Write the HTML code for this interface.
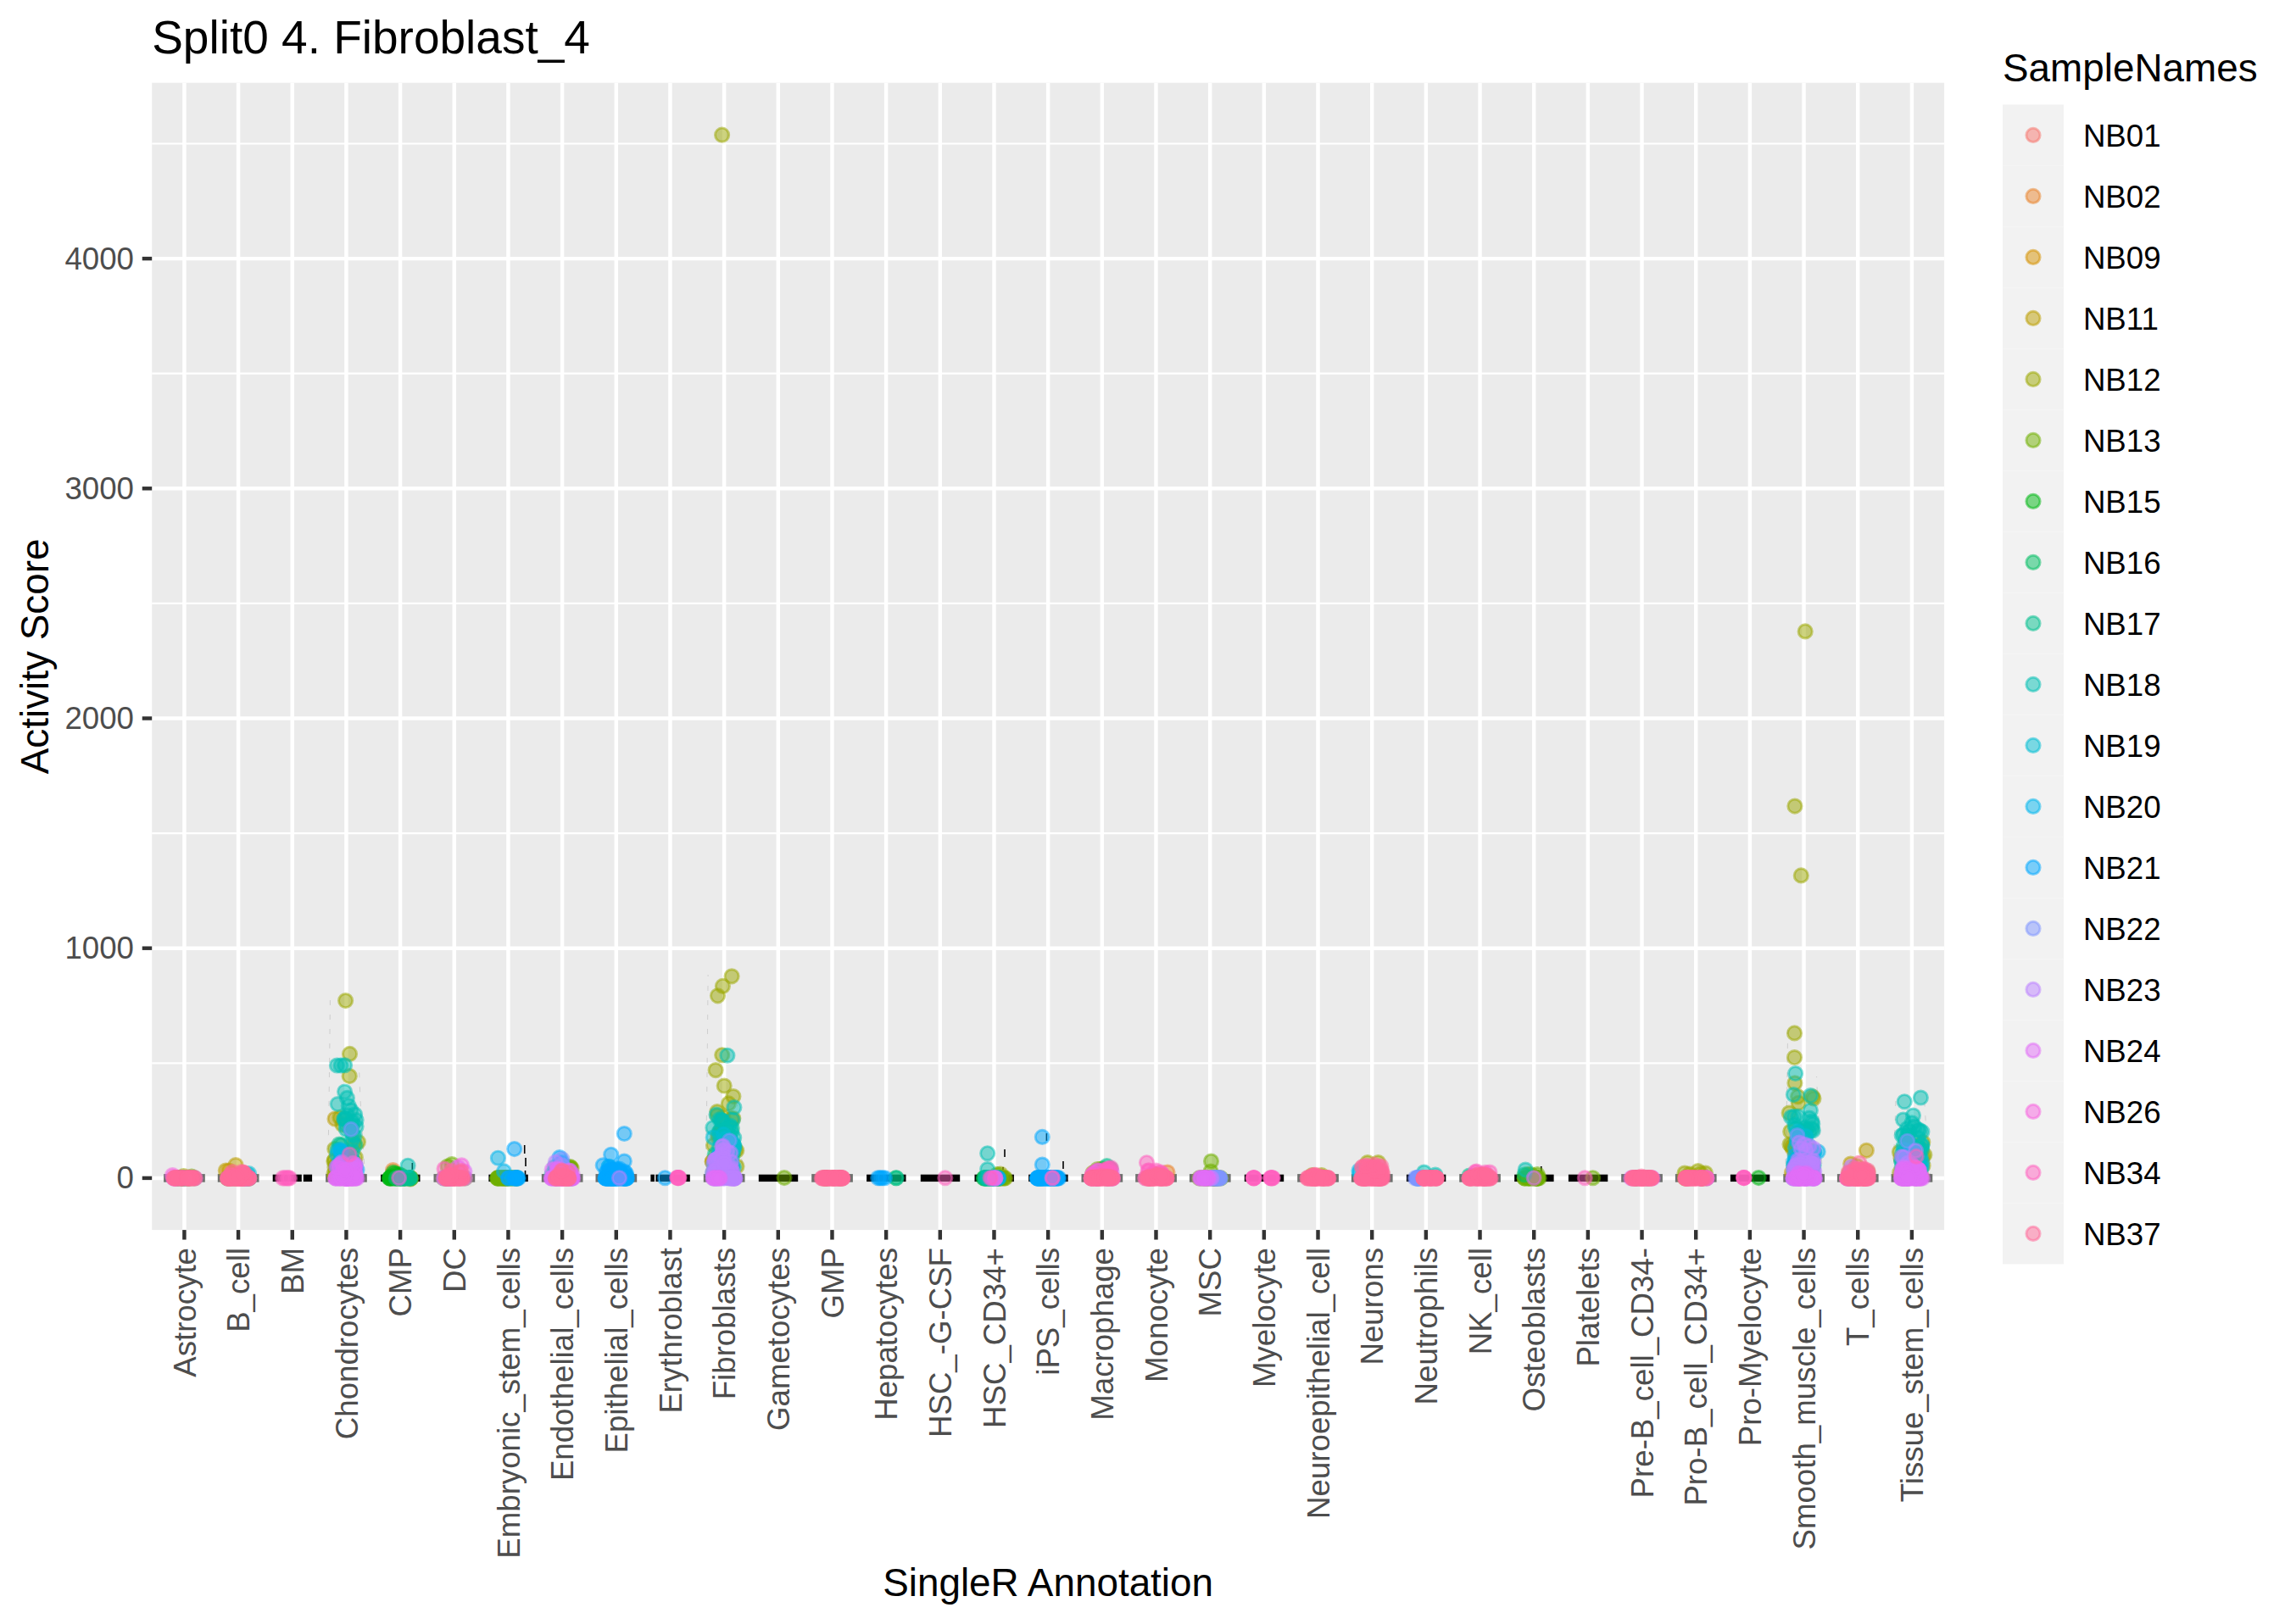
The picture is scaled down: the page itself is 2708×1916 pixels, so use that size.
<!DOCTYPE html>
<html lang="en"><head><meta charset="utf-8"><title>Split0 4. Fibroblast_4</title>
<style>html,body{margin:0;padding:0;background:#fff}body{width:2708px;height:1916px;overflow:hidden}svg{display:block}</style>
</head><body>
<svg width="2708" height="1916" viewBox="0 0 2708 1916" font-family="'Liberation Sans', Arial, Helvetica, sans-serif">
<rect width="2708" height="1916" fill="#fff"/>
<rect x="179.2" y="97.7" width="2113.9" height="1353.4" fill="#EBEBEB"/>
<g stroke="#fff" stroke-width="2.22">
<line x1="179.2" x2="2293.1" y1="1254.30" y2="1254.30"/>
<line x1="179.2" x2="2293.1" y1="983.10" y2="983.10"/>
<line x1="179.2" x2="2293.1" y1="711.90" y2="711.90"/>
<line x1="179.2" x2="2293.1" y1="440.70" y2="440.70"/>
<line x1="179.2" x2="2293.1" y1="169.50" y2="169.50"/>
</g>
<g stroke="#fff" stroke-width="4.45">
<line x1="179.2" x2="2293.1" y1="1389.90" y2="1389.90"/>
<line x1="179.2" x2="2293.1" y1="1118.70" y2="1118.70"/>
<line x1="179.2" x2="2293.1" y1="847.50" y2="847.50"/>
<line x1="179.2" x2="2293.1" y1="576.30" y2="576.30"/>
<line x1="179.2" x2="2293.1" y1="305.10" y2="305.10"/>
<line x1="217.40" x2="217.40" y1="97.7" y2="1451.1"/>
<line x1="281.07" x2="281.07" y1="97.7" y2="1451.1"/>
<line x1="344.75" x2="344.75" y1="97.7" y2="1451.1"/>
<line x1="408.42" x2="408.42" y1="97.7" y2="1451.1"/>
<line x1="472.09" x2="472.09" y1="97.7" y2="1451.1"/>
<line x1="535.76" x2="535.76" y1="97.7" y2="1451.1"/>
<line x1="599.43" x2="599.43" y1="97.7" y2="1451.1"/>
<line x1="663.10" x2="663.10" y1="97.7" y2="1451.1"/>
<line x1="726.78" x2="726.78" y1="97.7" y2="1451.1"/>
<line x1="790.45" x2="790.45" y1="97.7" y2="1451.1"/>
<line x1="854.12" x2="854.12" y1="97.7" y2="1451.1"/>
<line x1="917.79" x2="917.79" y1="97.7" y2="1451.1"/>
<line x1="981.46" x2="981.46" y1="97.7" y2="1451.1"/>
<line x1="1045.13" x2="1045.13" y1="97.7" y2="1451.1"/>
<line x1="1108.81" x2="1108.81" y1="97.7" y2="1451.1"/>
<line x1="1172.48" x2="1172.48" y1="97.7" y2="1451.1"/>
<line x1="1236.15" x2="1236.15" y1="97.7" y2="1451.1"/>
<line x1="1299.82" x2="1299.82" y1="97.7" y2="1451.1"/>
<line x1="1363.49" x2="1363.49" y1="97.7" y2="1451.1"/>
<line x1="1427.17" x2="1427.17" y1="97.7" y2="1451.1"/>
<line x1="1490.84" x2="1490.84" y1="97.7" y2="1451.1"/>
<line x1="1554.51" x2="1554.51" y1="97.7" y2="1451.1"/>
<line x1="1618.18" x2="1618.18" y1="97.7" y2="1451.1"/>
<line x1="1681.85" x2="1681.85" y1="97.7" y2="1451.1"/>
<line x1="1745.52" x2="1745.52" y1="97.7" y2="1451.1"/>
<line x1="1809.20" x2="1809.20" y1="97.7" y2="1451.1"/>
<line x1="1872.87" x2="1872.87" y1="97.7" y2="1451.1"/>
<line x1="1936.54" x2="1936.54" y1="97.7" y2="1451.1"/>
<line x1="2000.21" x2="2000.21" y1="97.7" y2="1451.1"/>
<line x1="2063.88" x2="2063.88" y1="97.7" y2="1451.1"/>
<line x1="2127.55" x2="2127.55" y1="97.7" y2="1451.1"/>
<line x1="2191.23" x2="2191.23" y1="97.7" y2="1451.1"/>
<line x1="2254.90" x2="2254.90" y1="97.7" y2="1451.1"/>
</g>
<rect x="193.1" y="1385.1" width="48.7" height="9.6" fill="#6E706E"/>
<rect x="256.8" y="1385.1" width="48.7" height="9.6" fill="#6E706E"/>
<rect x="321.7" y="1385.7" width="34.1" height="8.4" fill="#000"/>
<rect x="357.8" y="1385.7" width="10.3" height="8.4" fill="#000"/>
<rect x="384.1" y="1385.1" width="48.7" height="9.6" fill="#6E706E"/>
<rect x="449.1" y="1385.7" width="46.4" height="8.4" fill="#000"/>
<rect x="511.5" y="1385.1" width="48.7" height="9.6" fill="#6E706E"/>
<rect x="576.4" y="1385.7" width="46.4" height="8.4" fill="#000"/>
<rect x="638.8" y="1385.1" width="48.7" height="9.6" fill="#6E706E"/>
<rect x="702.5" y="1385.1" width="48.7" height="9.6" fill="#6E706E"/>
<rect x="767.4" y="1385.7" width="4.5" height="8.4" fill="#000"/>
<rect x="773.4" y="1385.7" width="3.5" height="8.4" fill="#000"/>
<rect x="777.9" y="1385.7" width="35.9" height="8.4" fill="#000"/>
<rect x="829.8" y="1385.1" width="48.7" height="9.6" fill="#6E706E"/>
<rect x="894.8" y="1385.7" width="46.4" height="8.4" fill="#000"/>
<rect x="957.2" y="1385.1" width="48.7" height="9.6" fill="#6E706E"/>
<rect x="1022.1" y="1385.7" width="46.4" height="8.4" fill="#000"/>
<rect x="1085.8" y="1385.7" width="46.4" height="8.4" fill="#000"/>
<rect x="1149.5" y="1385.7" width="46.4" height="8.4" fill="#000"/>
<rect x="1213.2" y="1385.7" width="46.4" height="8.4" fill="#000"/>
<rect x="1275.5" y="1385.1" width="48.7" height="9.6" fill="#6E706E"/>
<rect x="1339.2" y="1385.1" width="48.7" height="9.6" fill="#6E706E"/>
<rect x="1402.9" y="1385.1" width="48.7" height="9.6" fill="#6E706E"/>
<rect x="1467.8" y="1385.7" width="46.4" height="8.4" fill="#000"/>
<rect x="1530.2" y="1385.1" width="48.7" height="9.6" fill="#6E706E"/>
<rect x="1593.9" y="1385.1" width="48.7" height="9.6" fill="#6E706E"/>
<rect x="1658.9" y="1385.7" width="46.4" height="8.4" fill="#000"/>
<rect x="1721.2" y="1385.1" width="48.7" height="9.6" fill="#6E706E"/>
<rect x="1786.2" y="1385.7" width="46.4" height="8.4" fill="#000"/>
<rect x="1849.9" y="1385.7" width="46.4" height="8.4" fill="#000"/>
<rect x="1912.2" y="1385.1" width="48.7" height="9.6" fill="#6E706E"/>
<rect x="1975.9" y="1385.1" width="48.7" height="9.6" fill="#6E706E"/>
<rect x="2040.9" y="1385.7" width="46.4" height="8.4" fill="#000"/>
<rect x="2103.3" y="1385.1" width="48.7" height="9.6" fill="#6E706E"/>
<rect x="2166.9" y="1385.1" width="48.7" height="9.6" fill="#6E706E"/>
<rect x="2230.6" y="1385.1" width="48.7" height="9.6" fill="#6E706E"/>
<g stroke="#000" stroke-width="1" fill="none" stroke-dasharray="6 11" opacity="0.12">
<path d="M386.4,1389.9 C387.4,1349.9 388.4,1285 389.4,1180"/>
<path d="M430.4,1389.9 C429.4,1359.9 425.4,1322 423.4,1255"/>
<path d="M832.1,1389.9 C833.1,1349.9 834.1,1270 835.1,1150"/>
<path d="M876.1,1389.9 C875.1,1359.9 871.1,1340 869.1,1290"/>
<path d="M2105.6,1389.9 C2106.6,1349.9 2107.6,1302 2108.6,1215"/>
<path d="M2149.6,1389.9 C2148.6,1359.9 2144.6,1330 2142.6,1270"/>
<path d="M2232.9,1389.9 C2233.9,1349.9 2234.9,1342 2235.9,1295"/>
<path d="M2276.9,1389.9 C2275.9,1359.9 2271.9,1345 2269.9,1300"/>
</g>
<g stroke="#000" stroke-width="1.6" fill="none">
<line x1="618.7" x2="618.7" y1="1351" y2="1361"/>
<line x1="620" x2="620" y1="1366" y2="1376"/>
<line x1="619.5" x2="619.5" y1="1381" y2="1389"/>
<line x1="1185" x2="1185" y1="1356" y2="1365"/>
<line x1="1183" x2="1183" y1="1377" y2="1380"/>
<line x1="1234.4" x2="1234.4" y1="1337" y2="1346"/>
<line x1="1254" x2="1254" y1="1370" y2="1379"/>
<line x1="1817.8" x2="1817.8" y1="1376" y2="1384"/>
<line x1="486.3" x2="486.3" y1="1372" y2="1380"/>
</g>
<g stroke-width="2.95" fill-opacity="0.5" stroke-opacity="0.5">
<g fill="#E9842C" stroke="#E9842C">
<circle cx="463.5" cy="1380.5" r="8.1"/>
<circle cx="1377.0" cy="1383.0" r="8.1"/>
</g>
<g fill="#D69100" stroke="#D69100">
<circle cx="270.0" cy="1381.0" r="8.1"/>
</g>
<g fill="#BC9D00" stroke="#BC9D00">
<circle cx="268.4" cy="1389.9" r="8.1"/>
<circle cx="293.8" cy="1389.9" r="8.1"/>
<circle cx="269.9" cy="1389.9" r="8.1"/>
<circle cx="273.6" cy="1389.9" r="8.1"/>
<circle cx="285.7" cy="1389.9" r="8.1"/>
<circle cx="278.0" cy="1374.5" r="8.1"/>
<circle cx="266.3" cy="1381.0" r="8.1"/>
<circle cx="395.0" cy="1320.0" r="8.1"/>
<circle cx="848.9" cy="1367.2" r="8.1"/>
<circle cx="846.9" cy="1341.2" r="8.1"/>
<circle cx="849.3" cy="1335.1" r="8.1"/>
<circle cx="840.3" cy="1370.6" r="8.1"/>
<circle cx="847.1" cy="1338.4" r="8.1"/>
<circle cx="846.1" cy="1386.3" r="8.1"/>
<circle cx="842.6" cy="1367.9" r="8.1"/>
<circle cx="840.2" cy="1370.4" r="8.1"/>
<circle cx="2116.8" cy="1349.8" r="8.1"/>
<circle cx="2118.5" cy="1356.3" r="8.1"/>
<circle cx="2113.4" cy="1383.4" r="8.1"/>
<circle cx="2118.2" cy="1351.3" r="8.1"/>
<circle cx="2114.3" cy="1354.9" r="8.1"/>
<circle cx="2201.4" cy="1357.3" r="8.1"/>
<circle cx="2182.7" cy="1373.0" r="8.1"/>
</g>
<g fill="#9CA700" stroke="#9CA700">
<circle cx="216.6" cy="1389.9" r="8.1"/>
<circle cx="214.4" cy="1389.9" r="8.1"/>
<circle cx="220.9" cy="1389.9" r="8.1"/>
<circle cx="216.6" cy="1387.5" r="8.1"/>
<circle cx="407.6" cy="1180.6" r="8.1"/>
<circle cx="412.5" cy="1243.4" r="8.1"/>
<circle cx="412.2" cy="1269.6" r="8.1"/>
<circle cx="401.0" cy="1318.5" r="8.1"/>
<circle cx="403.9" cy="1326.8" r="8.1"/>
<circle cx="399.1" cy="1382.5" r="8.1"/>
<circle cx="394.0" cy="1384.7" r="8.1"/>
<circle cx="394.9" cy="1376.9" r="8.1"/>
<circle cx="393.9" cy="1370.0" r="8.1"/>
<circle cx="394.8" cy="1388.0" r="8.1"/>
<circle cx="396.7" cy="1382.6" r="8.1"/>
<circle cx="401.3" cy="1386.6" r="8.1"/>
<circle cx="394.8" cy="1355.5" r="8.1"/>
<circle cx="396.5" cy="1374.6" r="8.1"/>
<circle cx="394.5" cy="1368.7" r="8.1"/>
<circle cx="422.4" cy="1347.3" r="8.1"/>
<circle cx="419.3" cy="1365.6" r="8.1"/>
<circle cx="417.0" cy="1383.9" r="8.1"/>
<circle cx="418.0" cy="1371.6" r="8.1"/>
<circle cx="417.4" cy="1348.2" r="8.1"/>
<circle cx="484.0" cy="1391.0" r="8.1"/>
<circle cx="671.5" cy="1382.6" r="8.1"/>
<circle cx="674.1" cy="1378.3" r="8.1"/>
<circle cx="672.2" cy="1378.4" r="8.1"/>
<circle cx="673.0" cy="1377.5" r="8.1"/>
<circle cx="669.1" cy="1380.3" r="8.1"/>
<circle cx="851.6" cy="159.2" r="8.1"/>
<circle cx="863.1" cy="1151.8" r="8.1"/>
<circle cx="852.4" cy="1163.4" r="8.1"/>
<circle cx="846.5" cy="1174.8" r="8.1"/>
<circle cx="851.7" cy="1244.7" r="8.1"/>
<circle cx="844.1" cy="1262.6" r="8.1"/>
<circle cx="854.2" cy="1281.0" r="8.1"/>
<circle cx="864.9" cy="1293.6" r="8.1"/>
<circle cx="859.4" cy="1301.9" r="8.1"/>
<circle cx="846.0" cy="1316.0" r="8.1"/>
<circle cx="853.0" cy="1318.0" r="8.1"/>
<circle cx="848.5" cy="1385.8" r="8.1"/>
<circle cx="868.8" cy="1357.5" r="8.1"/>
<circle cx="869.0" cy="1376.0" r="8.1"/>
<circle cx="850.8" cy="1369.2" r="8.1"/>
<circle cx="864.8" cy="1319.5" r="8.1"/>
<circle cx="841.6" cy="1351.0" r="8.1"/>
<circle cx="851.3" cy="1347.6" r="8.1"/>
<circle cx="845.9" cy="1311.5" r="8.1"/>
<circle cx="867.0" cy="1356.5" r="8.1"/>
<circle cx="852.4" cy="1383.5" r="8.1"/>
<circle cx="863.1" cy="1320.2" r="8.1"/>
<circle cx="841.2" cy="1382.7" r="8.1"/>
<circle cx="975.7" cy="1389.9" r="8.1"/>
<circle cx="989.5" cy="1389.9" r="8.1"/>
<circle cx="972.4" cy="1389.9" r="8.1"/>
<circle cx="1177.5" cy="1389.9" r="8.1"/>
<circle cx="1185.5" cy="1389.9" r="8.1"/>
<circle cx="1182.8" cy="1389.9" r="8.1"/>
<circle cx="1180.0" cy="1389.9" r="8.1"/>
<circle cx="1177.5" cy="1389.9" r="8.1"/>
<circle cx="1177.7" cy="1389.9" r="8.1"/>
<circle cx="1180.0" cy="1385.0" r="8.1"/>
<circle cx="1298.7" cy="1379.3" r="8.1"/>
<circle cx="1290.3" cy="1384.0" r="8.1"/>
<circle cx="1288.8" cy="1383.9" r="8.1"/>
<circle cx="1305.8" cy="1383.0" r="8.1"/>
<circle cx="1547.7" cy="1386.5" r="8.1"/>
<circle cx="1558.7" cy="1386.5" r="8.1"/>
<circle cx="1613.0" cy="1371.5" r="8.1"/>
<circle cx="1625.5" cy="1371.5" r="8.1"/>
<circle cx="1987.0" cy="1384.0" r="8.1"/>
<circle cx="2002.8" cy="1381.5" r="8.1"/>
<circle cx="2011.5" cy="1384.0" r="8.1"/>
<circle cx="1993.0" cy="1385.0" r="8.1"/>
<circle cx="2006.0" cy="1384.5" r="8.1"/>
<circle cx="1987.5" cy="1389.9" r="8.1"/>
<circle cx="2012.9" cy="1389.9" r="8.1"/>
<circle cx="2007.0" cy="1389.9" r="8.1"/>
<circle cx="2008.3" cy="1389.9" r="8.1"/>
<circle cx="2129.2" cy="744.9" r="8.1"/>
<circle cx="2116.9" cy="951.1" r="8.1"/>
<circle cx="2124.3" cy="1032.9" r="8.1"/>
<circle cx="2116.5" cy="1218.9" r="8.1"/>
<circle cx="2116.5" cy="1247.5" r="8.1"/>
<circle cx="2116.9" cy="1277.8" r="8.1"/>
<circle cx="2120.6" cy="1293.8" r="8.1"/>
<circle cx="2121.3" cy="1301.2" r="8.1"/>
<circle cx="2137.6" cy="1293.8" r="8.1"/>
<circle cx="2110.2" cy="1313.0" r="8.1"/>
<circle cx="2111.7" cy="1335.0" r="8.1"/>
<circle cx="2111.0" cy="1350.0" r="8.1"/>
<circle cx="2139.0" cy="1296.0" r="8.1"/>
<circle cx="2134.5" cy="1356.7" r="8.1"/>
<circle cx="2121.9" cy="1382.4" r="8.1"/>
<circle cx="2116.2" cy="1374.4" r="8.1"/>
<circle cx="2117.4" cy="1362.5" r="8.1"/>
<circle cx="2116.7" cy="1375.4" r="8.1"/>
<circle cx="2112.9" cy="1352.1" r="8.1"/>
<circle cx="2202.9" cy="1382.6" r="8.1"/>
<circle cx="2197.8" cy="1382.5" r="8.1"/>
<circle cx="2180.8" cy="1384.1" r="8.1"/>
<circle cx="2189.8" cy="1375.5" r="8.1"/>
<circle cx="2266.4" cy="1387.8" r="8.1"/>
<circle cx="2267.8" cy="1347.6" r="8.1"/>
<circle cx="2265.9" cy="1355.9" r="8.1"/>
<circle cx="2267.7" cy="1364.1" r="8.1"/>
<circle cx="2268.1" cy="1375.2" r="8.1"/>
<circle cx="2269.9" cy="1362.5" r="8.1"/>
<circle cx="2242.0" cy="1366.2" r="8.1"/>
<circle cx="2240.7" cy="1383.4" r="8.1"/>
<circle cx="2240.4" cy="1359.1" r="8.1"/>
</g>
<g fill="#6FB000" stroke="#6FB000">
<circle cx="214.4" cy="1389.9" r="8.1"/>
<circle cx="229.4" cy="1389.9" r="8.1"/>
<circle cx="215.5" cy="1389.9" r="8.1"/>
<circle cx="222.4" cy="1389.9" r="8.1"/>
<circle cx="226.0" cy="1388.0" r="8.1"/>
<circle cx="268.4" cy="1389.9" r="8.1"/>
<circle cx="293.8" cy="1389.9" r="8.1"/>
<circle cx="279.2" cy="1389.9" r="8.1"/>
<circle cx="276.4" cy="1389.9" r="8.1"/>
<circle cx="283.2" cy="1389.9" r="8.1"/>
<circle cx="477.1" cy="1389.9" r="8.1"/>
<circle cx="484.8" cy="1389.9" r="8.1"/>
<circle cx="477.6" cy="1389.9" r="8.1"/>
<circle cx="484.3" cy="1389.9" r="8.1"/>
<circle cx="523.1" cy="1389.9" r="8.1"/>
<circle cx="548.5" cy="1389.9" r="8.1"/>
<circle cx="526.3" cy="1389.9" r="8.1"/>
<circle cx="536.4" cy="1389.9" r="8.1"/>
<circle cx="529.1" cy="1389.9" r="8.1"/>
<circle cx="525.8" cy="1389.9" r="8.1"/>
<circle cx="533.0" cy="1373.5" r="8.1"/>
<circle cx="528.0" cy="1376.0" r="8.1"/>
<circle cx="586.7" cy="1389.9" r="8.1"/>
<circle cx="609.4" cy="1389.9" r="8.1"/>
<circle cx="595.4" cy="1389.9" r="8.1"/>
<circle cx="597.5" cy="1389.9" r="8.1"/>
<circle cx="598.1" cy="1389.9" r="8.1"/>
<circle cx="591.3" cy="1389.9" r="8.1"/>
<circle cx="598.2" cy="1389.9" r="8.1"/>
<circle cx="586.8" cy="1389.9" r="8.1"/>
<circle cx="592.7" cy="1389.9" r="8.1"/>
<circle cx="588.8" cy="1389.9" r="8.1"/>
<circle cx="595.8" cy="1389.9" r="8.1"/>
<circle cx="587.7" cy="1389.9" r="8.1"/>
<circle cx="587.2" cy="1389.9" r="8.1"/>
<circle cx="593.6" cy="1389.9" r="8.1"/>
<circle cx="592.0" cy="1389.9" r="8.1"/>
<circle cx="600.0" cy="1389.9" r="8.1"/>
<circle cx="598.7" cy="1389.9" r="8.1"/>
<circle cx="603.8" cy="1389.9" r="8.1"/>
<circle cx="601.7" cy="1389.9" r="8.1"/>
<circle cx="603.0" cy="1389.9" r="8.1"/>
<circle cx="606.7" cy="1389.9" r="8.1"/>
<circle cx="595.6" cy="1389.9" r="8.1"/>
<circle cx="594.1" cy="1389.9" r="8.1"/>
<circle cx="609.1" cy="1389.9" r="8.1"/>
<circle cx="590.1" cy="1389.9" r="8.1"/>
<circle cx="669.1" cy="1389.4" r="8.1"/>
<circle cx="668.9" cy="1384.2" r="8.1"/>
<circle cx="672.4" cy="1376.6" r="8.1"/>
<circle cx="672.9" cy="1379.9" r="8.1"/>
<circle cx="671.9" cy="1379.1" r="8.1"/>
<circle cx="674.2" cy="1389.8" r="8.1"/>
<circle cx="925.0" cy="1389.6" r="8.1"/>
<circle cx="981.5" cy="1389.9" r="8.1"/>
<circle cx="992.1" cy="1389.9" r="8.1"/>
<circle cx="974.1" cy="1389.9" r="8.1"/>
<circle cx="1174.5" cy="1389.9" r="8.1"/>
<circle cx="1184.5" cy="1389.9" r="8.1"/>
<circle cx="1176.0" cy="1389.9" r="8.1"/>
<circle cx="1180.6" cy="1389.9" r="8.1"/>
<circle cx="1178.8" cy="1389.9" r="8.1"/>
<circle cx="1176.0" cy="1385.5" r="8.1"/>
<circle cx="1308.7" cy="1379.7" r="8.1"/>
<circle cx="1294.4" cy="1379.6" r="8.1"/>
<circle cx="1298.6" cy="1381.0" r="8.1"/>
<circle cx="1300.7" cy="1378.9" r="8.1"/>
<circle cx="1303.7" cy="1383.6" r="8.1"/>
<circle cx="1414.5" cy="1389.9" r="8.1"/>
<circle cx="1439.9" cy="1389.9" r="8.1"/>
<circle cx="1425.2" cy="1389.9" r="8.1"/>
<circle cx="1420.3" cy="1389.9" r="8.1"/>
<circle cx="1432.8" cy="1389.9" r="8.1"/>
<circle cx="1436.8" cy="1389.9" r="8.1"/>
<circle cx="1434.1" cy="1389.9" r="8.1"/>
<circle cx="1432.2" cy="1389.9" r="8.1"/>
<circle cx="1436.1" cy="1389.9" r="8.1"/>
<circle cx="1431.7" cy="1389.9" r="8.1"/>
<circle cx="1430.8" cy="1389.9" r="8.1"/>
<circle cx="1426.0" cy="1389.9" r="8.1"/>
<circle cx="1422.4" cy="1389.9" r="8.1"/>
<circle cx="1430.4" cy="1389.9" r="8.1"/>
<circle cx="1417.0" cy="1389.9" r="8.1"/>
<circle cx="1425.1" cy="1389.9" r="8.1"/>
<circle cx="1434.3" cy="1389.9" r="8.1"/>
<circle cx="1432.6" cy="1389.9" r="8.1"/>
<circle cx="1430.5" cy="1389.9" r="8.1"/>
<circle cx="1420.8" cy="1389.9" r="8.1"/>
<circle cx="1428.5" cy="1370.1" r="8.1"/>
<circle cx="1428.0" cy="1382.0" r="8.1"/>
<circle cx="1798.2" cy="1389.9" r="8.1"/>
<circle cx="1815.2" cy="1389.9" r="8.1"/>
<circle cx="1803.0" cy="1389.9" r="8.1"/>
<circle cx="1798.2" cy="1389.9" r="8.1"/>
<circle cx="1802.7" cy="1389.9" r="8.1"/>
<circle cx="1805.4" cy="1389.9" r="8.1"/>
<circle cx="1808.2" cy="1389.9" r="8.1"/>
<circle cx="1812.1" cy="1389.9" r="8.1"/>
<circle cx="1813.3" cy="1389.9" r="8.1"/>
<circle cx="1798.9" cy="1389.9" r="8.1"/>
<circle cx="1812.4" cy="1389.9" r="8.1"/>
<circle cx="1812.0" cy="1389.9" r="8.1"/>
<circle cx="1812.9" cy="1389.9" r="8.1"/>
<circle cx="1807.9" cy="1389.9" r="8.1"/>
<circle cx="1802.9" cy="1389.9" r="8.1"/>
<circle cx="1812.7" cy="1389.9" r="8.1"/>
<circle cx="1811.9" cy="1389.9" r="8.1"/>
<circle cx="1809.8" cy="1389.9" r="8.1"/>
<circle cx="1813.7" cy="1389.9" r="8.1"/>
<circle cx="1804.1" cy="1389.9" r="8.1"/>
<circle cx="1807.5" cy="1389.4" r="8.1"/>
<circle cx="1802.2" cy="1385.2" r="8.1"/>
<circle cx="1813.2" cy="1385.5" r="8.1"/>
<circle cx="1808.3" cy="1388.5" r="8.1"/>
<circle cx="1806.2" cy="1385.9" r="8.1"/>
<circle cx="1878.7" cy="1389.7" r="8.1"/>
</g>
<g fill="#00B813" stroke="#00B813">
<circle cx="209.4" cy="1389.9" r="8.1"/>
<circle cx="223.4" cy="1389.9" r="8.1"/>
<circle cx="214.5" cy="1389.9" r="8.1"/>
<circle cx="210.2" cy="1389.9" r="8.1"/>
<circle cx="459.4" cy="1389.9" r="8.1"/>
<circle cx="472.1" cy="1389.9" r="8.1"/>
<circle cx="459.6" cy="1389.9" r="8.1"/>
<circle cx="463.6" cy="1389.9" r="8.1"/>
<circle cx="467.3" cy="1389.9" r="8.1"/>
<circle cx="465.9" cy="1389.9" r="8.1"/>
<circle cx="460.2" cy="1389.9" r="8.1"/>
<circle cx="471.9" cy="1389.9" r="8.1"/>
<circle cx="469.4" cy="1389.9" r="8.1"/>
<circle cx="471.7" cy="1389.9" r="8.1"/>
<circle cx="460.7" cy="1389.9" r="8.1"/>
<circle cx="462.8" cy="1389.9" r="8.1"/>
<circle cx="471.0" cy="1389.6" r="8.1"/>
<circle cx="461.9" cy="1387.8" r="8.1"/>
<circle cx="472.8" cy="1386.6" r="8.1"/>
<circle cx="463.7" cy="1383.4" r="8.1"/>
<circle cx="473.0" cy="1388.7" r="8.1"/>
<circle cx="469.9" cy="1385.4" r="8.1"/>
<circle cx="460.9" cy="1389.2" r="8.1"/>
<circle cx="466.0" cy="1384.5" r="8.1"/>
<circle cx="1160.5" cy="1389.9" r="8.1"/>
<circle cx="1172.5" cy="1389.9" r="8.1"/>
<circle cx="1166.6" cy="1389.9" r="8.1"/>
<circle cx="1171.2" cy="1389.9" r="8.1"/>
<circle cx="2074.2" cy="1389.6" r="8.1"/>
</g>
<g fill="#00BD61" stroke="#00BD61">
<circle cx="218.0" cy="1390.5" r="8.1"/>
<circle cx="467.1" cy="1389.9" r="8.1"/>
<circle cx="477.1" cy="1389.9" r="8.1"/>
<circle cx="473.4" cy="1389.9" r="8.1"/>
<circle cx="475.1" cy="1389.9" r="8.1"/>
<circle cx="467.9" cy="1389.9" r="8.1"/>
<circle cx="1056.8" cy="1389.7" r="8.1"/>
<circle cx="1160.5" cy="1389.9" r="8.1"/>
<circle cx="1172.5" cy="1389.9" r="8.1"/>
<circle cx="1162.1" cy="1389.9" r="8.1"/>
<circle cx="1163.2" cy="1389.9" r="8.1"/>
<circle cx="1168.3" cy="1389.9" r="8.1"/>
<circle cx="1310.0" cy="1379.0" r="8.1"/>
<circle cx="1798.0" cy="1386.0" r="8.1"/>
<circle cx="1929.1" cy="1389.9" r="8.1"/>
<circle cx="1930.3" cy="1389.9" r="8.1"/>
<circle cx="1942.9" cy="1389.9" r="8.1"/>
</g>
<g fill="#00C08E" stroke="#00C08E">
<circle cx="418.4" cy="1378.7" r="8.1"/>
<circle cx="402.4" cy="1350.9" r="8.1"/>
<circle cx="400.0" cy="1350.1" r="8.1"/>
<circle cx="419.0" cy="1351.0" r="8.1"/>
<circle cx="413.3" cy="1332.5" r="8.1"/>
<circle cx="406.8" cy="1365.6" r="8.1"/>
<circle cx="472.1" cy="1389.9" r="8.1"/>
<circle cx="484.1" cy="1389.9" r="8.1"/>
<circle cx="482.4" cy="1389.9" r="8.1"/>
<circle cx="472.9" cy="1389.9" r="8.1"/>
<circle cx="482.4" cy="1389.9" r="8.1"/>
<circle cx="477.5" cy="1389.9" r="8.1"/>
<circle cx="476.2" cy="1389.9" r="8.1"/>
<circle cx="478.7" cy="1389.9" r="8.1"/>
<circle cx="483.2" cy="1389.9" r="8.1"/>
<circle cx="475.3" cy="1389.9" r="8.1"/>
<circle cx="863.4" cy="1375.9" r="8.1"/>
<circle cx="859.6" cy="1363.3" r="8.1"/>
<circle cx="850.6" cy="1321.6" r="8.1"/>
<circle cx="864.2" cy="1362.3" r="8.1"/>
<circle cx="848.9" cy="1339.9" r="8.1"/>
<circle cx="850.1" cy="1333.4" r="8.1"/>
<circle cx="843.2" cy="1362.1" r="8.1"/>
<circle cx="863.3" cy="1330.9" r="8.1"/>
<circle cx="1057.2" cy="1389.7" r="8.1"/>
<circle cx="1162.5" cy="1389.9" r="8.1"/>
<circle cx="1177.5" cy="1389.9" r="8.1"/>
<circle cx="1162.8" cy="1389.9" r="8.1"/>
<circle cx="1162.5" cy="1389.9" r="8.1"/>
<circle cx="1167.8" cy="1389.9" r="8.1"/>
<circle cx="1164.1" cy="1389.9" r="8.1"/>
<circle cx="1167.8" cy="1389.9" r="8.1"/>
<circle cx="1165.8" cy="1389.9" r="8.1"/>
<circle cx="1226.4" cy="1389.9" r="8.1"/>
<circle cx="1227.5" cy="1389.9" r="8.1"/>
<circle cx="1227.1" cy="1389.9" r="8.1"/>
<circle cx="1305.5" cy="1375.5" r="8.1"/>
<circle cx="1733.0" cy="1387.0" r="8.1"/>
<circle cx="2121.0" cy="1339.8" r="8.1"/>
<circle cx="2137.9" cy="1378.0" r="8.1"/>
<circle cx="2138.0" cy="1367.6" r="8.1"/>
<circle cx="2137.0" cy="1331.5" r="8.1"/>
<circle cx="2126.8" cy="1372.2" r="8.1"/>
<circle cx="2137.9" cy="1374.6" r="8.1"/>
<circle cx="2131.0" cy="1332.8" r="8.1"/>
<circle cx="2124.4" cy="1354.7" r="8.1"/>
<circle cx="2247.0" cy="1375.5" r="8.1"/>
<circle cx="2262.7" cy="1356.5" r="8.1"/>
<circle cx="2262.3" cy="1352.4" r="8.1"/>
<circle cx="2243.2" cy="1377.2" r="8.1"/>
<circle cx="2250.6" cy="1345.3" r="8.1"/>
<circle cx="2251.4" cy="1347.8" r="8.1"/>
<circle cx="2249.3" cy="1372.4" r="8.1"/>
<circle cx="2264.6" cy="1375.5" r="8.1"/>
</g>
<g fill="#00C0B4" stroke="#00C0B4">
<circle cx="397.4" cy="1257.0" r="8.1"/>
<circle cx="402.0" cy="1257.0" r="8.1"/>
<circle cx="406.6" cy="1256.7" r="8.1"/>
<circle cx="406.6" cy="1288.0" r="8.1"/>
<circle cx="409.4" cy="1295.4" r="8.1"/>
<circle cx="398.3" cy="1302.5" r="8.1"/>
<circle cx="411.3" cy="1304.7" r="8.1"/>
<circle cx="418.6" cy="1314.8" r="8.1"/>
<circle cx="409.4" cy="1315.8" r="8.1"/>
<circle cx="414.0" cy="1310.0" r="8.1"/>
<circle cx="415.2" cy="1369.2" r="8.1"/>
<circle cx="415.3" cy="1345.7" r="8.1"/>
<circle cx="402.5" cy="1358.4" r="8.1"/>
<circle cx="420.1" cy="1329.0" r="8.1"/>
<circle cx="416.0" cy="1326.6" r="8.1"/>
<circle cx="414.4" cy="1328.6" r="8.1"/>
<circle cx="409.3" cy="1365.2" r="8.1"/>
<circle cx="398.1" cy="1356.8" r="8.1"/>
<circle cx="403.8" cy="1379.4" r="8.1"/>
<circle cx="413.3" cy="1363.0" r="8.1"/>
<circle cx="407.7" cy="1320.5" r="8.1"/>
<circle cx="420.1" cy="1321.6" r="8.1"/>
<circle cx="405.8" cy="1320.6" r="8.1"/>
<circle cx="402.6" cy="1365.6" r="8.1"/>
<circle cx="402.1" cy="1367.2" r="8.1"/>
<circle cx="418.1" cy="1340.1" r="8.1"/>
<circle cx="408.4" cy="1327.3" r="8.1"/>
<circle cx="415.8" cy="1338.4" r="8.1"/>
<circle cx="412.6" cy="1375.1" r="8.1"/>
<circle cx="415.4" cy="1323.2" r="8.1"/>
<circle cx="408.4" cy="1332.6" r="8.1"/>
<circle cx="415.6" cy="1368.4" r="8.1"/>
<circle cx="415.8" cy="1358.2" r="8.1"/>
<circle cx="406.5" cy="1319.6" r="8.1"/>
<circle cx="481.1" cy="1375.2" r="8.1"/>
<circle cx="654.3" cy="1376.5" r="8.1"/>
<circle cx="655.5" cy="1380.3" r="8.1"/>
<circle cx="656.1" cy="1388.7" r="8.1"/>
<circle cx="651.0" cy="1385.4" r="8.1"/>
<circle cx="656.0" cy="1385.1" r="8.1"/>
<circle cx="857.9" cy="1245.2" r="8.1"/>
<circle cx="865.9" cy="1306.5" r="8.1"/>
<circle cx="840.9" cy="1330.5" r="8.1"/>
<circle cx="861.0" cy="1328.0" r="8.1"/>
<circle cx="845.0" cy="1315.0" r="8.1"/>
<circle cx="852.0" cy="1322.0" r="8.1"/>
<circle cx="865.7" cy="1342.2" r="8.1"/>
<circle cx="848.0" cy="1383.7" r="8.1"/>
<circle cx="866.0" cy="1352.2" r="8.1"/>
<circle cx="851.8" cy="1322.7" r="8.1"/>
<circle cx="852.9" cy="1367.0" r="8.1"/>
<circle cx="865.3" cy="1351.0" r="8.1"/>
<circle cx="862.2" cy="1371.7" r="8.1"/>
<circle cx="862.7" cy="1335.8" r="8.1"/>
<circle cx="857.3" cy="1333.7" r="8.1"/>
<circle cx="850.1" cy="1361.8" r="8.1"/>
<circle cx="861.7" cy="1359.6" r="8.1"/>
<circle cx="847.1" cy="1379.3" r="8.1"/>
<circle cx="848.3" cy="1334.9" r="8.1"/>
<circle cx="843.0" cy="1380.4" r="8.1"/>
<circle cx="850.3" cy="1347.3" r="8.1"/>
<circle cx="864.2" cy="1321.2" r="8.1"/>
<circle cx="848.7" cy="1320.7" r="8.1"/>
<circle cx="844.5" cy="1378.9" r="8.1"/>
<circle cx="859.9" cy="1350.7" r="8.1"/>
<circle cx="848.0" cy="1354.0" r="8.1"/>
<circle cx="857.6" cy="1356.0" r="8.1"/>
<circle cx="860.8" cy="1339.7" r="8.1"/>
<circle cx="858.7" cy="1329.2" r="8.1"/>
<circle cx="863.1" cy="1376.1" r="8.1"/>
<circle cx="856.3" cy="1364.1" r="8.1"/>
<circle cx="860.6" cy="1358.8" r="8.1"/>
<circle cx="848.3" cy="1370.6" r="8.1"/>
<circle cx="846.0" cy="1367.4" r="8.1"/>
<circle cx="1164.5" cy="1389.9" r="8.1"/>
<circle cx="1176.5" cy="1389.9" r="8.1"/>
<circle cx="1171.5" cy="1389.9" r="8.1"/>
<circle cx="1171.5" cy="1389.9" r="8.1"/>
<circle cx="1166.9" cy="1389.9" r="8.1"/>
<circle cx="1172.0" cy="1389.9" r="8.1"/>
<circle cx="1164.7" cy="1360.7" r="8.1"/>
<circle cx="1164.7" cy="1379.5" r="8.1"/>
<circle cx="1679.6" cy="1383.0" r="8.1"/>
<circle cx="1692.9" cy="1386.0" r="8.1"/>
<circle cx="1799.2" cy="1380.0" r="8.1"/>
<circle cx="2117.6" cy="1266.5" r="8.1"/>
<circle cx="2115.4" cy="1291.6" r="8.1"/>
<circle cx="2135.4" cy="1292.6" r="8.1"/>
<circle cx="2135.4" cy="1310.0" r="8.1"/>
<circle cx="2116.2" cy="1317.4" r="8.1"/>
<circle cx="2112.5" cy="1318.0" r="8.1"/>
<circle cx="2121.0" cy="1317.4" r="8.1"/>
<circle cx="2134.0" cy="1319.0" r="8.1"/>
<circle cx="2137.0" cy="1323.0" r="8.1"/>
<circle cx="2138.3" cy="1333.7" r="8.1"/>
<circle cx="2134.0" cy="1335.0" r="8.1"/>
<circle cx="2129.5" cy="1330.7" r="8.1"/>
<circle cx="2127.5" cy="1334.8" r="8.1"/>
<circle cx="2119.8" cy="1344.9" r="8.1"/>
<circle cx="2117.9" cy="1367.9" r="8.1"/>
<circle cx="2129.3" cy="1340.5" r="8.1"/>
<circle cx="2136.6" cy="1372.8" r="8.1"/>
<circle cx="2126.0" cy="1365.2" r="8.1"/>
<circle cx="2122.8" cy="1372.1" r="8.1"/>
<circle cx="2124.2" cy="1334.0" r="8.1"/>
<circle cx="2127.8" cy="1371.3" r="8.1"/>
<circle cx="2137.3" cy="1362.1" r="8.1"/>
<circle cx="2139.1" cy="1374.8" r="8.1"/>
<circle cx="2137.1" cy="1378.9" r="8.1"/>
<circle cx="2121.4" cy="1342.8" r="8.1"/>
<circle cx="2123.1" cy="1353.1" r="8.1"/>
<circle cx="2121.2" cy="1365.7" r="8.1"/>
<circle cx="2139.3" cy="1359.4" r="8.1"/>
<circle cx="2137.8" cy="1326.1" r="8.1"/>
<circle cx="2123.2" cy="1376.0" r="8.1"/>
<circle cx="2117.9" cy="1331.2" r="8.1"/>
<circle cx="2123.3" cy="1339.8" r="8.1"/>
<circle cx="2116.9" cy="1327.1" r="8.1"/>
<circle cx="2124.4" cy="1335.7" r="8.1"/>
<circle cx="2116.6" cy="1373.1" r="8.1"/>
<circle cx="2128.7" cy="1334.4" r="8.1"/>
<circle cx="2246.2" cy="1299.7" r="8.1"/>
<circle cx="2265.4" cy="1295.0" r="8.1"/>
<circle cx="2244.7" cy="1321.1" r="8.1"/>
<circle cx="2256.5" cy="1316.0" r="8.1"/>
<circle cx="2255.0" cy="1324.8" r="8.1"/>
<circle cx="2266.9" cy="1335.2" r="8.1"/>
<circle cx="2243.2" cy="1339.6" r="8.1"/>
<circle cx="2262.4" cy="1342.5" r="8.1"/>
<circle cx="2252.0" cy="1335.0" r="8.1"/>
<circle cx="2258.0" cy="1329.0" r="8.1"/>
<circle cx="2262.0" cy="1333.0" r="8.1"/>
<circle cx="2251.0" cy="1351.7" r="8.1"/>
<circle cx="2251.9" cy="1358.6" r="8.1"/>
<circle cx="2265.1" cy="1379.2" r="8.1"/>
<circle cx="2266.8" cy="1351.7" r="8.1"/>
<circle cx="2258.0" cy="1359.1" r="8.1"/>
<circle cx="2243.0" cy="1369.0" r="8.1"/>
<circle cx="2264.1" cy="1333.6" r="8.1"/>
<circle cx="2265.3" cy="1365.6" r="8.1"/>
<circle cx="2249.8" cy="1339.6" r="8.1"/>
<circle cx="2266.9" cy="1350.7" r="8.1"/>
<circle cx="2266.6" cy="1356.2" r="8.1"/>
<circle cx="2252.0" cy="1369.4" r="8.1"/>
<circle cx="2247.7" cy="1344.6" r="8.1"/>
<circle cx="2264.7" cy="1365.9" r="8.1"/>
<circle cx="2262.5" cy="1356.8" r="8.1"/>
<circle cx="2246.4" cy="1369.3" r="8.1"/>
<circle cx="2246.7" cy="1363.4" r="8.1"/>
<circle cx="2249.5" cy="1331.5" r="8.1"/>
<circle cx="2244.9" cy="1352.8" r="8.1"/>
<circle cx="2251.9" cy="1354.2" r="8.1"/>
<circle cx="2243.6" cy="1361.0" r="8.1"/>
<circle cx="2263.4" cy="1375.6" r="8.1"/>
<circle cx="2248.3" cy="1363.7" r="8.1"/>
<circle cx="2249.3" cy="1372.1" r="8.1"/>
<circle cx="2242.8" cy="1369.7" r="8.1"/>
<circle cx="2250.8" cy="1347.5" r="8.1"/>
<circle cx="2260.2" cy="1373.9" r="8.1"/>
<circle cx="2248.9" cy="1377.2" r="8.1"/>
<circle cx="2245.2" cy="1338.6" r="8.1"/>
<circle cx="2263.6" cy="1358.9" r="8.1"/>
</g>
<g fill="#00BDD4" stroke="#00BDD4">
<circle cx="289.1" cy="1389.9" r="8.1"/>
<circle cx="293.8" cy="1389.9" r="8.1"/>
<circle cx="291.2" cy="1389.9" r="8.1"/>
<circle cx="290.5" cy="1389.9" r="8.1"/>
<circle cx="293.5" cy="1384.5" r="8.1"/>
<circle cx="292.0" cy="1386.0" r="8.1"/>
<circle cx="407.7" cy="1370.0" r="8.1"/>
<circle cx="397.6" cy="1361.9" r="8.1"/>
<circle cx="397.4" cy="1376.8" r="8.1"/>
<circle cx="609.3" cy="1389.9" r="8.1"/>
<circle cx="609.9" cy="1389.9" r="8.1"/>
<circle cx="604.5" cy="1389.9" r="8.1"/>
<circle cx="855.2" cy="1343.6" r="8.1"/>
<circle cx="850.4" cy="1370.3" r="8.1"/>
<circle cx="853.3" cy="1338.4" r="8.1"/>
<circle cx="861.1" cy="1374.9" r="8.1"/>
<circle cx="865.9" cy="1354.6" r="8.1"/>
<circle cx="852.5" cy="1381.1" r="8.1"/>
<circle cx="862.0" cy="1346.7" r="8.1"/>
<circle cx="841.2" cy="1342.1" r="8.1"/>
<circle cx="843.2" cy="1371.9" r="8.1"/>
<circle cx="865.4" cy="1376.9" r="8.1"/>
<circle cx="864.3" cy="1358.0" r="8.1"/>
<circle cx="862.6" cy="1368.1" r="8.1"/>
<circle cx="846.9" cy="1364.4" r="8.1"/>
<circle cx="864.7" cy="1348.7" r="8.1"/>
<circle cx="1603.5" cy="1384.0" r="8.1"/>
<circle cx="2125.7" cy="1375.6" r="8.1"/>
<circle cx="2119.7" cy="1334.9" r="8.1"/>
<circle cx="2117.4" cy="1354.0" r="8.1"/>
<circle cx="2135.1" cy="1375.9" r="8.1"/>
<circle cx="2119.1" cy="1346.1" r="8.1"/>
<circle cx="2116.0" cy="1381.6" r="8.1"/>
<circle cx="2127.4" cy="1351.9" r="8.1"/>
<circle cx="2119.3" cy="1370.7" r="8.1"/>
<circle cx="2133.4" cy="1351.7" r="8.1"/>
<circle cx="2129.9" cy="1340.6" r="8.1"/>
<circle cx="2115.4" cy="1374.7" r="8.1"/>
<circle cx="2125.0" cy="1345.0" r="8.1"/>
<circle cx="2246.0" cy="1356.6" r="8.1"/>
<circle cx="2260.7" cy="1372.0" r="8.1"/>
<circle cx="2266.8" cy="1371.2" r="8.1"/>
<circle cx="2266.6" cy="1376.9" r="8.1"/>
<circle cx="2247.8" cy="1366.8" r="8.1"/>
<circle cx="2245.3" cy="1368.6" r="8.1"/>
</g>
<g fill="#00B5EE" stroke="#00B5EE">
<circle cx="402.5" cy="1358.5" r="8.1"/>
<circle cx="402.7" cy="1378.2" r="8.1"/>
<circle cx="401.0" cy="1356.5" r="8.1"/>
<circle cx="399.9" cy="1372.9" r="8.1"/>
<circle cx="587.4" cy="1366.2" r="8.1"/>
<circle cx="594.4" cy="1381.9" r="8.1"/>
<circle cx="720.1" cy="1385.8" r="8.1"/>
<circle cx="730.7" cy="1383.0" r="8.1"/>
<circle cx="718.3" cy="1376.6" r="8.1"/>
<circle cx="719.9" cy="1383.3" r="8.1"/>
<circle cx="718.2" cy="1376.3" r="8.1"/>
<circle cx="716.2" cy="1387.4" r="8.1"/>
<circle cx="856.4" cy="1382.2" r="8.1"/>
<circle cx="847.3" cy="1363.7" r="8.1"/>
<circle cx="845.5" cy="1372.7" r="8.1"/>
<circle cx="848.2" cy="1378.7" r="8.1"/>
<circle cx="857.8" cy="1364.4" r="8.1"/>
<circle cx="1603.0" cy="1381.0" r="8.1"/>
<circle cx="2144.2" cy="1358.8" r="8.1"/>
<circle cx="2117.1" cy="1363.4" r="8.1"/>
<circle cx="2124.9" cy="1360.7" r="8.1"/>
<circle cx="2139.8" cy="1359.7" r="8.1"/>
<circle cx="2116.0" cy="1370.2" r="8.1"/>
<circle cx="2128.9" cy="1357.7" r="8.1"/>
<circle cx="2248.7" cy="1363.5" r="8.1"/>
<circle cx="2257.2" cy="1357.9" r="8.1"/>
<circle cx="2248.3" cy="1373.3" r="8.1"/>
<circle cx="2247.4" cy="1366.4" r="8.1"/>
</g>
<g fill="#00A7FF" stroke="#00A7FF">
<circle cx="414.5" cy="1384.6" r="8.1"/>
<circle cx="419.0" cy="1375.3" r="8.1"/>
<circle cx="421.0" cy="1380.2" r="8.1"/>
<circle cx="606.7" cy="1355.6" r="8.1"/>
<circle cx="599.4" cy="1389.9" r="8.1"/>
<circle cx="611.4" cy="1389.9" r="8.1"/>
<circle cx="608.1" cy="1389.9" r="8.1"/>
<circle cx="607.2" cy="1389.9" r="8.1"/>
<circle cx="600.0" cy="1389.9" r="8.1"/>
<circle cx="609.5" cy="1389.9" r="8.1"/>
<circle cx="610.1" cy="1389.9" r="8.1"/>
<circle cx="607.0" cy="1389.9" r="8.1"/>
<circle cx="662.5" cy="1380.9" r="8.1"/>
<circle cx="660.0" cy="1365.5" r="8.1"/>
<circle cx="659.9" cy="1377.3" r="8.1"/>
<circle cx="662.8" cy="1371.3" r="8.1"/>
<circle cx="661.5" cy="1372.7" r="8.1"/>
<circle cx="656.6" cy="1383.5" r="8.1"/>
<circle cx="714.1" cy="1389.9" r="8.1"/>
<circle cx="739.5" cy="1389.9" r="8.1"/>
<circle cx="717.6" cy="1389.9" r="8.1"/>
<circle cx="719.0" cy="1389.9" r="8.1"/>
<circle cx="716.4" cy="1389.9" r="8.1"/>
<circle cx="722.8" cy="1389.9" r="8.1"/>
<circle cx="716.4" cy="1389.9" r="8.1"/>
<circle cx="720.2" cy="1389.9" r="8.1"/>
<circle cx="720.6" cy="1389.9" r="8.1"/>
<circle cx="728.5" cy="1389.9" r="8.1"/>
<circle cx="736.6" cy="1389.9" r="8.1"/>
<circle cx="733.1" cy="1389.9" r="8.1"/>
<circle cx="724.6" cy="1389.9" r="8.1"/>
<circle cx="724.6" cy="1389.9" r="8.1"/>
<circle cx="727.4" cy="1389.9" r="8.1"/>
<circle cx="723.6" cy="1389.9" r="8.1"/>
<circle cx="722.7" cy="1389.9" r="8.1"/>
<circle cx="715.7" cy="1389.9" r="8.1"/>
<circle cx="721.1" cy="1389.9" r="8.1"/>
<circle cx="738.7" cy="1389.9" r="8.1"/>
<circle cx="717.3" cy="1389.9" r="8.1"/>
<circle cx="726.9" cy="1389.9" r="8.1"/>
<circle cx="730.1" cy="1389.9" r="8.1"/>
<circle cx="736.0" cy="1389.9" r="8.1"/>
<circle cx="719.6" cy="1389.9" r="8.1"/>
<circle cx="721.0" cy="1389.9" r="8.1"/>
<circle cx="720.4" cy="1389.9" r="8.1"/>
<circle cx="724.2" cy="1389.9" r="8.1"/>
<circle cx="725.4" cy="1389.9" r="8.1"/>
<circle cx="738.3" cy="1389.9" r="8.1"/>
<circle cx="735.6" cy="1389.9" r="8.1"/>
<circle cx="736.2" cy="1389.9" r="8.1"/>
<circle cx="714.6" cy="1389.9" r="8.1"/>
<circle cx="714.9" cy="1389.9" r="8.1"/>
<circle cx="732.1" cy="1389.9" r="8.1"/>
<circle cx="736.8" cy="1389.9" r="8.1"/>
<circle cx="726.1" cy="1389.9" r="8.1"/>
<circle cx="729.0" cy="1389.9" r="8.1"/>
<circle cx="714.1" cy="1389.9" r="8.1"/>
<circle cx="724.0" cy="1389.9" r="8.1"/>
<circle cx="737.6" cy="1389.9" r="8.1"/>
<circle cx="735.0" cy="1389.9" r="8.1"/>
<circle cx="735.8" cy="1389.9" r="8.1"/>
<circle cx="738.8" cy="1389.9" r="8.1"/>
<circle cx="720.4" cy="1389.9" r="8.1"/>
<circle cx="716.8" cy="1389.9" r="8.1"/>
<circle cx="718.0" cy="1389.9" r="8.1"/>
<circle cx="727.3" cy="1389.9" r="8.1"/>
<circle cx="731.4" cy="1389.9" r="8.1"/>
<circle cx="738.0" cy="1389.9" r="8.1"/>
<circle cx="730.5" cy="1381.3" r="8.1"/>
<circle cx="725.7" cy="1380.8" r="8.1"/>
<circle cx="715.1" cy="1383.3" r="8.1"/>
<circle cx="720.0" cy="1380.6" r="8.1"/>
<circle cx="730.5" cy="1379.0" r="8.1"/>
<circle cx="717.3" cy="1386.3" r="8.1"/>
<circle cx="730.2" cy="1386.9" r="8.1"/>
<circle cx="716.9" cy="1381.6" r="8.1"/>
<circle cx="727.4" cy="1389.1" r="8.1"/>
<circle cx="723.9" cy="1383.0" r="8.1"/>
<circle cx="729.3" cy="1387.2" r="8.1"/>
<circle cx="721.7" cy="1389.8" r="8.1"/>
<circle cx="738.4" cy="1384.4" r="8.1"/>
<circle cx="736.5" cy="1382.2" r="8.1"/>
<circle cx="720.0" cy="1384.2" r="8.1"/>
<circle cx="738.5" cy="1387.0" r="8.1"/>
<circle cx="721.9" cy="1381.5" r="8.1"/>
<circle cx="726.7" cy="1389.6" r="8.1"/>
<circle cx="724.7" cy="1381.9" r="8.1"/>
<circle cx="731.0" cy="1386.8" r="8.1"/>
<circle cx="719.8" cy="1378.9" r="8.1"/>
<circle cx="722.7" cy="1389.5" r="8.1"/>
<circle cx="731.4" cy="1384.9" r="8.1"/>
<circle cx="734.3" cy="1387.5" r="8.1"/>
<circle cx="726.9" cy="1381.1" r="8.1"/>
<circle cx="738.7" cy="1387.5" r="8.1"/>
<circle cx="734.9" cy="1386.2" r="8.1"/>
<circle cx="719.7" cy="1387.2" r="8.1"/>
<circle cx="721.6" cy="1380.9" r="8.1"/>
<circle cx="726.7" cy="1378.6" r="8.1"/>
<circle cx="736.3" cy="1337.5" r="8.1"/>
<circle cx="720.7" cy="1362.3" r="8.1"/>
<circle cx="736.3" cy="1370.0" r="8.1"/>
<circle cx="711.2" cy="1374.8" r="8.1"/>
<circle cx="784.4" cy="1389.7" r="8.1"/>
<circle cx="1035.6" cy="1389.7" r="8.1"/>
<circle cx="1038.0" cy="1389.7" r="8.1"/>
<circle cx="1040.5" cy="1389.7" r="8.1"/>
<circle cx="1043.5" cy="1389.7" r="8.1"/>
<circle cx="1173.2" cy="1389.9" r="8.1"/>
<circle cx="1169.8" cy="1389.9" r="8.1"/>
<circle cx="1177.8" cy="1389.9" r="8.1"/>
<circle cx="1223.5" cy="1389.9" r="8.1"/>
<circle cx="1248.9" cy="1389.9" r="8.1"/>
<circle cx="1233.7" cy="1389.9" r="8.1"/>
<circle cx="1230.2" cy="1389.9" r="8.1"/>
<circle cx="1223.7" cy="1389.9" r="8.1"/>
<circle cx="1239.8" cy="1389.9" r="8.1"/>
<circle cx="1237.7" cy="1389.9" r="8.1"/>
<circle cx="1232.3" cy="1389.9" r="8.1"/>
<circle cx="1239.8" cy="1389.9" r="8.1"/>
<circle cx="1234.7" cy="1389.9" r="8.1"/>
<circle cx="1247.3" cy="1389.9" r="8.1"/>
<circle cx="1242.1" cy="1389.9" r="8.1"/>
<circle cx="1229.8" cy="1389.9" r="8.1"/>
<circle cx="1246.4" cy="1389.9" r="8.1"/>
<circle cx="1224.6" cy="1389.9" r="8.1"/>
<circle cx="1237.0" cy="1389.9" r="8.1"/>
<circle cx="1233.8" cy="1389.9" r="8.1"/>
<circle cx="1229.5" cy="1389.9" r="8.1"/>
<circle cx="1224.9" cy="1389.9" r="8.1"/>
<circle cx="1243.2" cy="1389.9" r="8.1"/>
<circle cx="1223.8" cy="1389.9" r="8.1"/>
<circle cx="1237.4" cy="1389.9" r="8.1"/>
<circle cx="1247.3" cy="1389.9" r="8.1"/>
<circle cx="1227.1" cy="1389.9" r="8.1"/>
<circle cx="1228.5" cy="1389.9" r="8.1"/>
<circle cx="1238.9" cy="1389.9" r="8.1"/>
<circle cx="1236.3" cy="1389.9" r="8.1"/>
<circle cx="1239.7" cy="1389.9" r="8.1"/>
<circle cx="1244.1" cy="1389.9" r="8.1"/>
<circle cx="1227.9" cy="1389.9" r="8.1"/>
<circle cx="1231.3" cy="1389.9" r="8.1"/>
<circle cx="1231.1" cy="1389.9" r="8.1"/>
<circle cx="1224.7" cy="1389.9" r="8.1"/>
<circle cx="1246.0" cy="1389.9" r="8.1"/>
<circle cx="1243.3" cy="1389.9" r="8.1"/>
<circle cx="1241.6" cy="1389.9" r="8.1"/>
<circle cx="1223.6" cy="1389.9" r="8.1"/>
<circle cx="1244.9" cy="1389.9" r="8.1"/>
<circle cx="1242.4" cy="1389.9" r="8.1"/>
<circle cx="1235.3" cy="1389.9" r="8.1"/>
<circle cx="1229.3" cy="1341.4" r="8.1"/>
<circle cx="1229.3" cy="1374.0" r="8.1"/>
<circle cx="1671.7" cy="1389.9" r="8.1"/>
<circle cx="1672.4" cy="1389.9" r="8.1"/>
<circle cx="1671.8" cy="1389.9" r="8.1"/>
</g>
<g fill="#7F96FF" stroke="#7F96FF">
<circle cx="414.0" cy="1332.4" r="8.1"/>
<circle cx="663.3" cy="1375.4" r="8.1"/>
<circle cx="662.1" cy="1374.5" r="8.1"/>
<circle cx="658.5" cy="1379.8" r="8.1"/>
<circle cx="662.8" cy="1375.2" r="8.1"/>
<circle cx="662.8" cy="1367.5" r="8.1"/>
<circle cx="860.3" cy="1345.7" r="8.1"/>
<circle cx="840.4" cy="1383.8" r="8.1"/>
<circle cx="855.0" cy="1380.1" r="8.1"/>
<circle cx="847.0" cy="1384.4" r="8.1"/>
<circle cx="857.6" cy="1383.8" r="8.1"/>
<circle cx="841.5" cy="1373.5" r="8.1"/>
<circle cx="848.8" cy="1386.9" r="8.1"/>
<circle cx="1429.2" cy="1389.9" r="8.1"/>
<circle cx="1439.2" cy="1389.9" r="8.1"/>
<circle cx="1433.4" cy="1389.9" r="8.1"/>
<circle cx="1433.7" cy="1389.9" r="8.1"/>
<circle cx="1435.4" cy="1389.9" r="8.1"/>
<circle cx="1433.3" cy="1389.9" r="8.1"/>
<circle cx="1435.9" cy="1389.9" r="8.1"/>
<circle cx="1438.5" cy="1389.9" r="8.1"/>
<circle cx="1431.0" cy="1389.9" r="8.1"/>
<circle cx="1435.7" cy="1389.9" r="8.1"/>
<circle cx="1436.9" cy="1389.9" r="8.1"/>
<circle cx="1433.1" cy="1389.9" r="8.1"/>
<circle cx="1434.1" cy="1389.9" r="8.1"/>
<circle cx="1438.9" cy="1389.9" r="8.1"/>
<circle cx="1429.5" cy="1389.9" r="8.1"/>
<circle cx="1669.2" cy="1389.9" r="8.1"/>
<circle cx="1675.9" cy="1389.9" r="8.1"/>
<circle cx="1673.5" cy="1389.9" r="8.1"/>
<circle cx="1671.6" cy="1389.9" r="8.1"/>
<circle cx="1674.7" cy="1389.9" r="8.1"/>
<circle cx="1674.4" cy="1389.9" r="8.1"/>
<circle cx="1672.9" cy="1389.9" r="8.1"/>
<circle cx="1670.9" cy="1389.9" r="8.1"/>
<circle cx="2119.8" cy="1339.6" r="8.1"/>
<circle cx="2249.6" cy="1346.2" r="8.1"/>
</g>
<g fill="#BC81FF" stroke="#BC81FF">
<circle cx="417.6" cy="1378.2" r="8.1"/>
<circle cx="403.1" cy="1371.1" r="8.1"/>
<circle cx="404.9" cy="1381.5" r="8.1"/>
<circle cx="411.3" cy="1381.7" r="8.1"/>
<circle cx="407.6" cy="1381.3" r="8.1"/>
<circle cx="418.4" cy="1383.6" r="8.1"/>
<circle cx="408.5" cy="1379.6" r="8.1"/>
<circle cx="418.3" cy="1375.5" r="8.1"/>
<circle cx="662.3" cy="1382.8" r="8.1"/>
<circle cx="661.6" cy="1379.6" r="8.1"/>
<circle cx="667.6" cy="1385.9" r="8.1"/>
<circle cx="668.8" cy="1384.4" r="8.1"/>
<circle cx="655.3" cy="1371.1" r="8.1"/>
<circle cx="730.5" cy="1389.7" r="8.1"/>
<circle cx="857.6" cy="1358.3" r="8.1"/>
<circle cx="849.1" cy="1364.7" r="8.1"/>
<circle cx="853.5" cy="1356.3" r="8.1"/>
<circle cx="851.7" cy="1362.0" r="8.1"/>
<circle cx="851.7" cy="1352.7" r="8.1"/>
<circle cx="852.5" cy="1358.1" r="8.1"/>
<circle cx="861.7" cy="1360.2" r="8.1"/>
<circle cx="852.7" cy="1352.0" r="8.1"/>
<circle cx="859.9" cy="1387.0" r="8.1"/>
<circle cx="841.6" cy="1386.9" r="8.1"/>
<circle cx="852.2" cy="1369.0" r="8.1"/>
<circle cx="851.7" cy="1371.4" r="8.1"/>
<circle cx="853.1" cy="1369.6" r="8.1"/>
<circle cx="841.8" cy="1387.6" r="8.1"/>
<circle cx="857.7" cy="1378.9" r="8.1"/>
<circle cx="843.7" cy="1368.8" r="8.1"/>
<circle cx="850.8" cy="1377.0" r="8.1"/>
<circle cx="845.1" cy="1380.1" r="8.1"/>
<circle cx="854.7" cy="1385.3" r="8.1"/>
<circle cx="844.2" cy="1368.3" r="8.1"/>
<circle cx="861.9" cy="1380.4" r="8.1"/>
<circle cx="846.4" cy="1367.0" r="8.1"/>
<circle cx="865.4" cy="1388.3" r="8.1"/>
<circle cx="853.7" cy="1366.8" r="8.1"/>
<circle cx="864.9" cy="1389.4" r="8.1"/>
<circle cx="864.4" cy="1382.9" r="8.1"/>
<circle cx="862.4" cy="1377.1" r="8.1"/>
<circle cx="861.4" cy="1387.7" r="8.1"/>
<circle cx="851.7" cy="1386.5" r="8.1"/>
<circle cx="862.5" cy="1370.7" r="8.1"/>
<circle cx="847.0" cy="1387.3" r="8.1"/>
<circle cx="854.6" cy="1382.6" r="8.1"/>
<circle cx="844.5" cy="1383.0" r="8.1"/>
<circle cx="859.8" cy="1386.0" r="8.1"/>
<circle cx="842.5" cy="1369.1" r="8.1"/>
<circle cx="860.7" cy="1378.6" r="8.1"/>
<circle cx="862.7" cy="1389.6" r="8.1"/>
<circle cx="856.6" cy="1388.4" r="8.1"/>
<circle cx="857.3" cy="1378.9" r="8.1"/>
<circle cx="852.1" cy="1384.8" r="8.1"/>
<circle cx="852.2" cy="1378.1" r="8.1"/>
<circle cx="852.8" cy="1376.0" r="8.1"/>
<circle cx="842.0" cy="1381.7" r="8.1"/>
<circle cx="853.9" cy="1377.1" r="8.1"/>
<circle cx="860.8" cy="1386.3" r="8.1"/>
<circle cx="853.1" cy="1372.6" r="8.1"/>
<circle cx="853.4" cy="1387.3" r="8.1"/>
<circle cx="844.7" cy="1388.6" r="8.1"/>
<circle cx="843.7" cy="1381.9" r="8.1"/>
<circle cx="854.4" cy="1381.6" r="8.1"/>
<circle cx="857.6" cy="1389.5" r="8.1"/>
<circle cx="860.1" cy="1389.0" r="8.1"/>
<circle cx="854.4" cy="1372.7" r="8.1"/>
<circle cx="841.4" cy="1389.9" r="8.1"/>
<circle cx="866.8" cy="1389.9" r="8.1"/>
<circle cx="842.8" cy="1389.9" r="8.1"/>
<circle cx="854.2" cy="1389.9" r="8.1"/>
<circle cx="851.0" cy="1389.9" r="8.1"/>
<circle cx="865.6" cy="1389.9" r="8.1"/>
<circle cx="844.9" cy="1389.9" r="8.1"/>
<circle cx="863.2" cy="1389.9" r="8.1"/>
<circle cx="866.7" cy="1389.9" r="8.1"/>
<circle cx="860.0" cy="1389.9" r="8.1"/>
<circle cx="862.1" cy="1389.9" r="8.1"/>
<circle cx="846.3" cy="1389.9" r="8.1"/>
<circle cx="866.4" cy="1389.9" r="8.1"/>
<circle cx="853.9" cy="1389.9" r="8.1"/>
<circle cx="865.7" cy="1389.9" r="8.1"/>
<circle cx="864.7" cy="1389.9" r="8.1"/>
<circle cx="845.6" cy="1389.9" r="8.1"/>
<circle cx="861.4" cy="1389.9" r="8.1"/>
<circle cx="865.1" cy="1389.9" r="8.1"/>
<circle cx="843.1" cy="1389.9" r="8.1"/>
<circle cx="1173.9" cy="1389.9" r="8.1"/>
<circle cx="1173.4" cy="1389.9" r="8.1"/>
<circle cx="1173.1" cy="1389.9" r="8.1"/>
<circle cx="1241.0" cy="1389.7" r="8.1"/>
<circle cx="1428.0" cy="1389.9" r="8.1"/>
<circle cx="1429.1" cy="1389.9" r="8.1"/>
<circle cx="1427.3" cy="1389.9" r="8.1"/>
<circle cx="2122.0" cy="1348.0" r="8.1"/>
<circle cx="2128.0" cy="1350.0" r="8.1"/>
<circle cx="2134.0" cy="1352.0" r="8.1"/>
<circle cx="2139.0" cy="1355.0" r="8.1"/>
<circle cx="2130.0" cy="1357.0" r="8.1"/>
<circle cx="2124.0" cy="1355.0" r="8.1"/>
<circle cx="2121.6" cy="1371.3" r="8.1"/>
<circle cx="2136.0" cy="1387.0" r="8.1"/>
<circle cx="2119.0" cy="1383.3" r="8.1"/>
<circle cx="2130.0" cy="1383.2" r="8.1"/>
<circle cx="2128.1" cy="1389.9" r="8.1"/>
<circle cx="2128.0" cy="1381.6" r="8.1"/>
<circle cx="2133.0" cy="1388.2" r="8.1"/>
<circle cx="2136.8" cy="1372.7" r="8.1"/>
<circle cx="2132.9" cy="1384.3" r="8.1"/>
<circle cx="2133.9" cy="1383.0" r="8.1"/>
<circle cx="2137.0" cy="1389.1" r="8.1"/>
<circle cx="2127.4" cy="1369.2" r="8.1"/>
<circle cx="2128.3" cy="1380.1" r="8.1"/>
<circle cx="2115.4" cy="1379.5" r="8.1"/>
<circle cx="2120.5" cy="1368.9" r="8.1"/>
<circle cx="2117.5" cy="1387.1" r="8.1"/>
<circle cx="2135.6" cy="1385.7" r="8.1"/>
<circle cx="2117.3" cy="1389.6" r="8.1"/>
<circle cx="2119.8" cy="1375.7" r="8.1"/>
<circle cx="2130.1" cy="1389.7" r="8.1"/>
<circle cx="2128.1" cy="1378.6" r="8.1"/>
<circle cx="2117.5" cy="1375.6" r="8.1"/>
<circle cx="2133.1" cy="1371.4" r="8.1"/>
<circle cx="2118.0" cy="1389.4" r="8.1"/>
<circle cx="2127.6" cy="1380.5" r="8.1"/>
<circle cx="2118.0" cy="1385.2" r="8.1"/>
<circle cx="2118.3" cy="1382.5" r="8.1"/>
<circle cx="2136.7" cy="1378.2" r="8.1"/>
<circle cx="2129.4" cy="1387.7" r="8.1"/>
<circle cx="2119.0" cy="1374.5" r="8.1"/>
<circle cx="2138.7" cy="1372.5" r="8.1"/>
<circle cx="2125.5" cy="1382.9" r="8.1"/>
<circle cx="2128.2" cy="1372.1" r="8.1"/>
<circle cx="2138.8" cy="1382.7" r="8.1"/>
<circle cx="2123.5" cy="1373.7" r="8.1"/>
<circle cx="2123.4" cy="1385.9" r="8.1"/>
<circle cx="2139.8" cy="1381.8" r="8.1"/>
<circle cx="2138.0" cy="1373.0" r="8.1"/>
<circle cx="2136.4" cy="1372.8" r="8.1"/>
<circle cx="2128.0" cy="1389.2" r="8.1"/>
<circle cx="2138.6" cy="1369.1" r="8.1"/>
<circle cx="2125.6" cy="1385.8" r="8.1"/>
<circle cx="2124.1" cy="1377.3" r="8.1"/>
<circle cx="2116.6" cy="1379.7" r="8.1"/>
<circle cx="2127.7" cy="1381.9" r="8.1"/>
<circle cx="2114.9" cy="1389.9" r="8.1"/>
<circle cx="2140.3" cy="1389.9" r="8.1"/>
<circle cx="2115.4" cy="1389.9" r="8.1"/>
<circle cx="2118.4" cy="1389.9" r="8.1"/>
<circle cx="2139.5" cy="1389.9" r="8.1"/>
<circle cx="2134.6" cy="1389.9" r="8.1"/>
<circle cx="2138.7" cy="1389.9" r="8.1"/>
<circle cx="2130.9" cy="1389.9" r="8.1"/>
<circle cx="2135.4" cy="1389.9" r="8.1"/>
<circle cx="2137.3" cy="1389.9" r="8.1"/>
<circle cx="2137.3" cy="1389.9" r="8.1"/>
<circle cx="2115.7" cy="1389.9" r="8.1"/>
<circle cx="2183.5" cy="1376.5" r="8.1"/>
<circle cx="2180.8" cy="1386.1" r="8.1"/>
<circle cx="2183.1" cy="1383.8" r="8.1"/>
<circle cx="2184.2" cy="1380.6" r="8.1"/>
<circle cx="2243.2" cy="1364.7" r="8.1"/>
<circle cx="2259.5" cy="1357.5" r="8.1"/>
<circle cx="2245.6" cy="1365.1" r="8.1"/>
<circle cx="2254.8" cy="1373.7" r="8.1"/>
<circle cx="2259.9" cy="1379.5" r="8.1"/>
<circle cx="2257.4" cy="1376.8" r="8.1"/>
<circle cx="2249.7" cy="1372.4" r="8.1"/>
<circle cx="2244.8" cy="1376.6" r="8.1"/>
<circle cx="2261.6" cy="1381.8" r="8.1"/>
<circle cx="2257.5" cy="1378.3" r="8.1"/>
</g>
<g fill="#E26EF7" stroke="#E26EF7">
<circle cx="204.7" cy="1389.9" r="8.1"/>
<circle cx="230.1" cy="1389.9" r="8.1"/>
<circle cx="217.6" cy="1389.9" r="8.1"/>
<circle cx="205.7" cy="1389.9" r="8.1"/>
<circle cx="215.7" cy="1389.9" r="8.1"/>
<circle cx="206.5" cy="1389.9" r="8.1"/>
<circle cx="268.4" cy="1389.9" r="8.1"/>
<circle cx="293.8" cy="1389.9" r="8.1"/>
<circle cx="288.6" cy="1389.9" r="8.1"/>
<circle cx="286.1" cy="1389.9" r="8.1"/>
<circle cx="274.6" cy="1389.9" r="8.1"/>
<circle cx="283.0" cy="1389.9" r="8.1"/>
<circle cx="281.7" cy="1389.9" r="8.1"/>
<circle cx="290.6" cy="1389.9" r="8.1"/>
<circle cx="395.7" cy="1389.9" r="8.1"/>
<circle cx="421.1" cy="1389.9" r="8.1"/>
<circle cx="406.4" cy="1389.9" r="8.1"/>
<circle cx="419.0" cy="1389.9" r="8.1"/>
<circle cx="408.5" cy="1389.9" r="8.1"/>
<circle cx="409.2" cy="1389.9" r="8.1"/>
<circle cx="409.0" cy="1389.9" r="8.1"/>
<circle cx="396.2" cy="1389.9" r="8.1"/>
<circle cx="406.9" cy="1389.9" r="8.1"/>
<circle cx="400.4" cy="1389.9" r="8.1"/>
<circle cx="395.8" cy="1389.9" r="8.1"/>
<circle cx="416.0" cy="1389.9" r="8.1"/>
<circle cx="400.1" cy="1389.9" r="8.1"/>
<circle cx="407.7" cy="1389.9" r="8.1"/>
<circle cx="414.1" cy="1389.9" r="8.1"/>
<circle cx="409.9" cy="1389.9" r="8.1"/>
<circle cx="404.0" cy="1389.9" r="8.1"/>
<circle cx="408.9" cy="1389.9" r="8.1"/>
<circle cx="409.8" cy="1389.9" r="8.1"/>
<circle cx="415.6" cy="1389.9" r="8.1"/>
<circle cx="398.4" cy="1389.9" r="8.1"/>
<circle cx="409.9" cy="1389.9" r="8.1"/>
<circle cx="402.0" cy="1389.9" r="8.1"/>
<circle cx="402.8" cy="1389.9" r="8.1"/>
<circle cx="415.3" cy="1389.9" r="8.1"/>
<circle cx="408.6" cy="1389.9" r="8.1"/>
<circle cx="410.0" cy="1389.9" r="8.1"/>
<circle cx="415.0" cy="1389.9" r="8.1"/>
<circle cx="418.9" cy="1389.9" r="8.1"/>
<circle cx="407.0" cy="1389.9" r="8.1"/>
<circle cx="411.3" cy="1389.9" r="8.1"/>
<circle cx="408.6" cy="1389.9" r="8.1"/>
<circle cx="408.7" cy="1389.9" r="8.1"/>
<circle cx="413.3" cy="1389.9" r="8.1"/>
<circle cx="407.2" cy="1389.9" r="8.1"/>
<circle cx="409.3" cy="1389.9" r="8.1"/>
<circle cx="407.9" cy="1389.9" r="8.1"/>
<circle cx="419.6" cy="1389.9" r="8.1"/>
<circle cx="413.5" cy="1389.9" r="8.1"/>
<circle cx="418.0" cy="1389.9" r="8.1"/>
<circle cx="402.6" cy="1373.0" r="8.1"/>
<circle cx="419.1" cy="1379.9" r="8.1"/>
<circle cx="399.7" cy="1374.9" r="8.1"/>
<circle cx="407.0" cy="1387.7" r="8.1"/>
<circle cx="402.2" cy="1388.6" r="8.1"/>
<circle cx="412.5" cy="1388.6" r="8.1"/>
<circle cx="417.9" cy="1375.9" r="8.1"/>
<circle cx="413.6" cy="1387.1" r="8.1"/>
<circle cx="399.8" cy="1378.1" r="8.1"/>
<circle cx="419.6" cy="1374.1" r="8.1"/>
<circle cx="419.3" cy="1386.0" r="8.1"/>
<circle cx="408.1" cy="1382.8" r="8.1"/>
<circle cx="416.4" cy="1372.2" r="8.1"/>
<circle cx="406.8" cy="1387.0" r="8.1"/>
<circle cx="404.6" cy="1380.7" r="8.1"/>
<circle cx="404.1" cy="1386.4" r="8.1"/>
<circle cx="396.9" cy="1377.0" r="8.1"/>
<circle cx="407.0" cy="1380.0" r="8.1"/>
<circle cx="523.1" cy="1389.9" r="8.1"/>
<circle cx="548.5" cy="1389.9" r="8.1"/>
<circle cx="527.2" cy="1389.9" r="8.1"/>
<circle cx="524.3" cy="1389.9" r="8.1"/>
<circle cx="528.2" cy="1389.9" r="8.1"/>
<circle cx="531.0" cy="1389.9" r="8.1"/>
<circle cx="530.8" cy="1389.9" r="8.1"/>
<circle cx="542.4" cy="1389.9" r="8.1"/>
<circle cx="530.4" cy="1389.9" r="8.1"/>
<circle cx="535.8" cy="1389.9" r="8.1"/>
<circle cx="527.6" cy="1389.9" r="8.1"/>
<circle cx="531.9" cy="1389.9" r="8.1"/>
<circle cx="540.0" cy="1377.0" r="8.1"/>
<circle cx="548.0" cy="1382.0" r="8.1"/>
<circle cx="650.4" cy="1389.9" r="8.1"/>
<circle cx="675.8" cy="1389.9" r="8.1"/>
<circle cx="662.1" cy="1389.9" r="8.1"/>
<circle cx="671.2" cy="1389.9" r="8.1"/>
<circle cx="675.0" cy="1389.9" r="8.1"/>
<circle cx="661.8" cy="1389.9" r="8.1"/>
<circle cx="657.2" cy="1389.9" r="8.1"/>
<circle cx="655.7" cy="1389.9" r="8.1"/>
<circle cx="674.4" cy="1389.9" r="8.1"/>
<circle cx="655.8" cy="1389.9" r="8.1"/>
<circle cx="665.2" cy="1389.9" r="8.1"/>
<circle cx="654.0" cy="1389.9" r="8.1"/>
<circle cx="663.7" cy="1389.9" r="8.1"/>
<circle cx="674.6" cy="1389.9" r="8.1"/>
<circle cx="653.8" cy="1389.9" r="8.1"/>
<circle cx="671.2" cy="1389.9" r="8.1"/>
<circle cx="663.3" cy="1389.9" r="8.1"/>
<circle cx="672.9" cy="1389.9" r="8.1"/>
<circle cx="668.3" cy="1389.9" r="8.1"/>
<circle cx="656.3" cy="1389.9" r="8.1"/>
<circle cx="673.2" cy="1389.9" r="8.1"/>
<circle cx="662.8" cy="1389.9" r="8.1"/>
<circle cx="651.0" cy="1389.9" r="8.1"/>
<circle cx="650.5" cy="1389.9" r="8.1"/>
<circle cx="662.9" cy="1389.9" r="8.1"/>
<circle cx="661.9" cy="1389.9" r="8.1"/>
<circle cx="658.1" cy="1389.9" r="8.1"/>
<circle cx="654.0" cy="1389.9" r="8.1"/>
<circle cx="659.1" cy="1389.9" r="8.1"/>
<circle cx="658.4" cy="1389.9" r="8.1"/>
<circle cx="651.1" cy="1379.9" r="8.1"/>
<circle cx="671.2" cy="1381.0" r="8.1"/>
<circle cx="673.3" cy="1388.5" r="8.1"/>
<circle cx="672.7" cy="1381.4" r="8.1"/>
<circle cx="660.0" cy="1386.5" r="8.1"/>
<circle cx="675.1" cy="1385.2" r="8.1"/>
<circle cx="659.8" cy="1382.9" r="8.1"/>
<circle cx="657.7" cy="1384.8" r="8.1"/>
<circle cx="653.5" cy="1389.3" r="8.1"/>
<circle cx="658.0" cy="1380.0" r="8.1"/>
<circle cx="657.1" cy="1378.8" r="8.1"/>
<circle cx="663.4" cy="1386.7" r="8.1"/>
<circle cx="841.1" cy="1389.9" r="8.1"/>
<circle cx="849.1" cy="1389.9" r="8.1"/>
<circle cx="843.9" cy="1389.9" r="8.1"/>
<circle cx="847.2" cy="1389.9" r="8.1"/>
<circle cx="842.4" cy="1389.9" r="8.1"/>
<circle cx="848.3" cy="1389.9" r="8.1"/>
<circle cx="1170.0" cy="1389.7" r="8.1"/>
<circle cx="1287.1" cy="1389.9" r="8.1"/>
<circle cx="1312.5" cy="1389.9" r="8.1"/>
<circle cx="1311.6" cy="1389.9" r="8.1"/>
<circle cx="1292.6" cy="1389.9" r="8.1"/>
<circle cx="1309.5" cy="1389.9" r="8.1"/>
<circle cx="1287.5" cy="1389.9" r="8.1"/>
<circle cx="1293.7" cy="1389.9" r="8.1"/>
<circle cx="1293.1" cy="1389.9" r="8.1"/>
<circle cx="1306.0" cy="1389.9" r="8.1"/>
<circle cx="1311.1" cy="1389.9" r="8.1"/>
<circle cx="1306.1" cy="1389.9" r="8.1"/>
<circle cx="1295.4" cy="1389.9" r="8.1"/>
<circle cx="1295.7" cy="1381.2" r="8.1"/>
<circle cx="1309.6" cy="1387.5" r="8.1"/>
<circle cx="1304.4" cy="1383.7" r="8.1"/>
<circle cx="1311.3" cy="1383.3" r="8.1"/>
<circle cx="1308.0" cy="1385.3" r="8.1"/>
<circle cx="1308.4" cy="1383.0" r="8.1"/>
<circle cx="1351.0" cy="1389.7" r="8.1"/>
<circle cx="1415.2" cy="1389.9" r="8.1"/>
<circle cx="1425.2" cy="1389.9" r="8.1"/>
<circle cx="1420.6" cy="1389.9" r="8.1"/>
<circle cx="1416.8" cy="1389.9" r="8.1"/>
<circle cx="1423.0" cy="1389.9" r="8.1"/>
<circle cx="1424.6" cy="1389.9" r="8.1"/>
<circle cx="1420.4" cy="1389.9" r="8.1"/>
<circle cx="1416.2" cy="1389.9" r="8.1"/>
<circle cx="1420.9" cy="1389.9" r="8.1"/>
<circle cx="1420.6" cy="1389.9" r="8.1"/>
<circle cx="1422.3" cy="1389.9" r="8.1"/>
<circle cx="1420.3" cy="1389.9" r="8.1"/>
<circle cx="1809.2" cy="1389.7" r="8.1"/>
<circle cx="1923.8" cy="1389.9" r="8.1"/>
<circle cx="1949.2" cy="1389.9" r="8.1"/>
<circle cx="1943.9" cy="1389.9" r="8.1"/>
<circle cx="1935.5" cy="1389.9" r="8.1"/>
<circle cx="1926.1" cy="1389.9" r="8.1"/>
<circle cx="2004.2" cy="1389.9" r="8.1"/>
<circle cx="2012.9" cy="1389.9" r="8.1"/>
<circle cx="2012.6" cy="1389.9" r="8.1"/>
<circle cx="2006.4" cy="1389.9" r="8.1"/>
<circle cx="2114.9" cy="1389.9" r="8.1"/>
<circle cx="2140.3" cy="1389.9" r="8.1"/>
<circle cx="2131.1" cy="1389.9" r="8.1"/>
<circle cx="2121.6" cy="1389.9" r="8.1"/>
<circle cx="2132.1" cy="1389.9" r="8.1"/>
<circle cx="2121.8" cy="1389.9" r="8.1"/>
<circle cx="2128.6" cy="1389.9" r="8.1"/>
<circle cx="2138.3" cy="1389.9" r="8.1"/>
<circle cx="2130.6" cy="1389.9" r="8.1"/>
<circle cx="2121.2" cy="1389.9" r="8.1"/>
<circle cx="2128.1" cy="1389.9" r="8.1"/>
<circle cx="2125.9" cy="1389.9" r="8.1"/>
<circle cx="2139.0" cy="1389.9" r="8.1"/>
<circle cx="2122.2" cy="1389.9" r="8.1"/>
<circle cx="2122.6" cy="1389.9" r="8.1"/>
<circle cx="2131.3" cy="1389.9" r="8.1"/>
<circle cx="2117.9" cy="1389.9" r="8.1"/>
<circle cx="2129.9" cy="1389.9" r="8.1"/>
<circle cx="2139.1" cy="1389.9" r="8.1"/>
<circle cx="2127.9" cy="1389.9" r="8.1"/>
<circle cx="2121.7" cy="1389.9" r="8.1"/>
<circle cx="2126.7" cy="1389.9" r="8.1"/>
<circle cx="2128.4" cy="1389.9" r="8.1"/>
<circle cx="2118.6" cy="1389.9" r="8.1"/>
<circle cx="2118.0" cy="1389.9" r="8.1"/>
<circle cx="2118.2" cy="1389.9" r="8.1"/>
<circle cx="2122.3" cy="1389.9" r="8.1"/>
<circle cx="2125.2" cy="1389.9" r="8.1"/>
<circle cx="2122.2" cy="1389.9" r="8.1"/>
<circle cx="2121.0" cy="1389.9" r="8.1"/>
<circle cx="2128.7" cy="1389.3" r="8.1"/>
<circle cx="2130.2" cy="1384.1" r="8.1"/>
<circle cx="2131.2" cy="1386.0" r="8.1"/>
<circle cx="2132.6" cy="1388.5" r="8.1"/>
<circle cx="2128.7" cy="1386.7" r="8.1"/>
<circle cx="2126.8" cy="1385.7" r="8.1"/>
<circle cx="2121.4" cy="1387.8" r="8.1"/>
<circle cx="2127.9" cy="1388.4" r="8.1"/>
<circle cx="2129.6" cy="1387.3" r="8.1"/>
<circle cx="2124.0" cy="1389.8" r="8.1"/>
<circle cx="2121.3" cy="1384.0" r="8.1"/>
<circle cx="2127.3" cy="1386.1" r="8.1"/>
<circle cx="2178.5" cy="1389.9" r="8.1"/>
<circle cx="2185.2" cy="1389.9" r="8.1"/>
<circle cx="2178.9" cy="1389.9" r="8.1"/>
<circle cx="2181.1" cy="1389.9" r="8.1"/>
<circle cx="2181.5" cy="1389.9" r="8.1"/>
<circle cx="2183.5" cy="1389.9" r="8.1"/>
<circle cx="2179.3" cy="1389.9" r="8.1"/>
<circle cx="2180.0" cy="1389.9" r="8.1"/>
<circle cx="2242.2" cy="1389.9" r="8.1"/>
<circle cx="2267.6" cy="1389.9" r="8.1"/>
<circle cx="2245.0" cy="1389.9" r="8.1"/>
<circle cx="2256.5" cy="1389.9" r="8.1"/>
<circle cx="2251.4" cy="1389.9" r="8.1"/>
<circle cx="2254.9" cy="1389.9" r="8.1"/>
<circle cx="2249.7" cy="1389.9" r="8.1"/>
<circle cx="2243.9" cy="1389.9" r="8.1"/>
<circle cx="2250.1" cy="1389.9" r="8.1"/>
<circle cx="2247.9" cy="1389.9" r="8.1"/>
<circle cx="2245.4" cy="1389.9" r="8.1"/>
<circle cx="2260.4" cy="1389.9" r="8.1"/>
<circle cx="2249.4" cy="1389.9" r="8.1"/>
<circle cx="2252.4" cy="1389.9" r="8.1"/>
<circle cx="2265.3" cy="1389.9" r="8.1"/>
<circle cx="2261.9" cy="1389.9" r="8.1"/>
<circle cx="2264.6" cy="1389.9" r="8.1"/>
<circle cx="2264.1" cy="1389.9" r="8.1"/>
<circle cx="2245.6" cy="1389.9" r="8.1"/>
<circle cx="2249.2" cy="1389.9" r="8.1"/>
<circle cx="2242.9" cy="1389.9" r="8.1"/>
<circle cx="2259.5" cy="1389.9" r="8.1"/>
<circle cx="2259.1" cy="1389.9" r="8.1"/>
<circle cx="2251.1" cy="1389.9" r="8.1"/>
<circle cx="2252.7" cy="1389.9" r="8.1"/>
<circle cx="2258.9" cy="1389.9" r="8.1"/>
<circle cx="2260.0" cy="1389.9" r="8.1"/>
<circle cx="2248.5" cy="1389.9" r="8.1"/>
<circle cx="2263.7" cy="1389.9" r="8.1"/>
<circle cx="2251.1" cy="1389.9" r="8.1"/>
<circle cx="2258.2" cy="1389.9" r="8.1"/>
<circle cx="2246.8" cy="1389.9" r="8.1"/>
<circle cx="2245.1" cy="1389.9" r="8.1"/>
<circle cx="2265.4" cy="1389.9" r="8.1"/>
<circle cx="2260.8" cy="1389.9" r="8.1"/>
<circle cx="2260.3" cy="1389.9" r="8.1"/>
<circle cx="2243.2" cy="1389.9" r="8.1"/>
<circle cx="2243.2" cy="1389.9" r="8.1"/>
<circle cx="2246.3" cy="1389.9" r="8.1"/>
<circle cx="2247.2" cy="1389.9" r="8.1"/>
<circle cx="2251.9" cy="1386.0" r="8.1"/>
<circle cx="2250.1" cy="1389.4" r="8.1"/>
<circle cx="2246.8" cy="1381.7" r="8.1"/>
<circle cx="2256.7" cy="1379.1" r="8.1"/>
<circle cx="2248.7" cy="1380.7" r="8.1"/>
<circle cx="2259.6" cy="1384.3" r="8.1"/>
<circle cx="2242.2" cy="1385.4" r="8.1"/>
<circle cx="2261.9" cy="1379.1" r="8.1"/>
<circle cx="2243.3" cy="1386.2" r="8.1"/>
<circle cx="2257.6" cy="1378.9" r="8.1"/>
<circle cx="2248.4" cy="1389.3" r="8.1"/>
<circle cx="2262.3" cy="1388.5" r="8.1"/>
<circle cx="2265.4" cy="1387.2" r="8.1"/>
<circle cx="2244.4" cy="1380.2" r="8.1"/>
<circle cx="2252.2" cy="1380.9" r="8.1"/>
<circle cx="2263.2" cy="1380.3" r="8.1"/>
<circle cx="2244.5" cy="1386.3" r="8.1"/>
<circle cx="2253.0" cy="1377.7" r="8.1"/>
<circle cx="2259.8" cy="1377.9" r="8.1"/>
<circle cx="2263.3" cy="1380.4" r="8.1"/>
<circle cx="2253.7" cy="1381.8" r="8.1"/>
<circle cx="2259.9" cy="1389.2" r="8.1"/>
<circle cx="2255.2" cy="1384.4" r="8.1"/>
<circle cx="2245.4" cy="1377.9" r="8.1"/>
<circle cx="2243.3" cy="1380.1" r="8.1"/>
<circle cx="2262.7" cy="1380.8" r="8.1"/>
<circle cx="2256.1" cy="1386.5" r="8.1"/>
<circle cx="2258.4" cy="1377.4" r="8.1"/>
<circle cx="2248.5" cy="1382.9" r="8.1"/>
<circle cx="2251.3" cy="1389.1" r="8.1"/>
</g>
<g fill="#F863DF" stroke="#F863DF">
<circle cx="206.1" cy="1389.9" r="8.1"/>
<circle cx="208.8" cy="1389.9" r="8.1"/>
<circle cx="212.0" cy="1389.9" r="8.1"/>
<circle cx="203.5" cy="1386.5" r="8.1"/>
<circle cx="470.6" cy="1389.7" r="8.1"/>
<circle cx="544.5" cy="1374.8" r="8.1"/>
<circle cx="1174.0" cy="1389.7" r="8.1"/>
<circle cx="1303.8" cy="1382.2" r="8.1"/>
<circle cx="1294.6" cy="1380.7" r="8.1"/>
<circle cx="1301.5" cy="1384.7" r="8.1"/>
<circle cx="1307.9" cy="1386.1" r="8.1"/>
<circle cx="1288.4" cy="1385.4" r="8.1"/>
<circle cx="1308.3" cy="1385.8" r="8.1"/>
<circle cx="1290.9" cy="1383.2" r="8.1"/>
<circle cx="1288.7" cy="1386.7" r="8.1"/>
<circle cx="2013.0" cy="1389.7" r="8.1"/>
</g>
<g fill="#FF62BF" stroke="#FF62BF">
<circle cx="333.4" cy="1389.9" r="8.1"/>
<circle cx="335.5" cy="1389.9" r="8.1"/>
<circle cx="338.0" cy="1389.9" r="8.1"/>
<circle cx="340.0" cy="1389.9" r="8.1"/>
<circle cx="341.6" cy="1389.9" r="8.1"/>
<circle cx="412.2" cy="1362.0" r="8.1"/>
<circle cx="524.0" cy="1379.0" r="8.1"/>
<circle cx="798.6" cy="1389.6" r="8.1"/>
<circle cx="799.2" cy="1389.6" r="8.1"/>
<circle cx="799.8" cy="1389.6" r="8.1"/>
<circle cx="800.4" cy="1389.6" r="8.1"/>
<circle cx="801.0" cy="1389.6" r="8.1"/>
<circle cx="800.0" cy="1389.6" r="8.1"/>
<circle cx="1114.8" cy="1389.7" r="8.1"/>
<circle cx="1168.0" cy="1389.7" r="8.1"/>
<circle cx="1241.5" cy="1389.7" r="8.1"/>
<circle cx="1303.0" cy="1380.4" r="8.1"/>
<circle cx="1305.5" cy="1380.3" r="8.1"/>
<circle cx="1302.0" cy="1387.3" r="8.1"/>
<circle cx="1307.4" cy="1384.0" r="8.1"/>
<circle cx="1309.2" cy="1379.0" r="8.1"/>
<circle cx="1308.6" cy="1387.3" r="8.1"/>
<circle cx="1310.5" cy="1377.9" r="8.1"/>
<circle cx="1292.8" cy="1386.8" r="8.1"/>
<circle cx="1288.6" cy="1386.8" r="8.1"/>
<circle cx="1307.3" cy="1378.7" r="8.1"/>
<circle cx="1352.5" cy="1371.7" r="8.1"/>
<circle cx="1369.2" cy="1383.0" r="8.1"/>
<circle cx="1360.6" cy="1383.7" r="8.1"/>
<circle cx="1361.4" cy="1385.9" r="8.1"/>
<circle cx="1355.2" cy="1381.1" r="8.1"/>
<circle cx="1354.0" cy="1381.1" r="8.1"/>
<circle cx="1358.8" cy="1387.9" r="8.1"/>
<circle cx="1363.5" cy="1381.0" r="8.1"/>
<circle cx="1371.2" cy="1386.1" r="8.1"/>
<circle cx="1362.7" cy="1387.6" r="8.1"/>
<circle cx="1368.6" cy="1384.6" r="8.1"/>
<circle cx="1478.2" cy="1389.7" r="8.1"/>
<circle cx="1478.7" cy="1389.7" r="8.1"/>
<circle cx="1479.2" cy="1389.7" r="8.1"/>
<circle cx="1478.7" cy="1389.7" r="8.1"/>
<circle cx="1479.0" cy="1389.7" r="8.1"/>
<circle cx="1498.5" cy="1389.7" r="8.1"/>
<circle cx="1499.0" cy="1389.7" r="8.1"/>
<circle cx="1499.5" cy="1389.7" r="8.1"/>
<circle cx="1500.0" cy="1389.7" r="8.1"/>
<circle cx="1500.5" cy="1389.7" r="8.1"/>
<circle cx="1501.3" cy="1389.7" r="8.1"/>
<circle cx="1614.0" cy="1377.5" r="8.1"/>
<circle cx="1618.4" cy="1377.7" r="8.1"/>
<circle cx="1612.0" cy="1376.6" r="8.1"/>
<circle cx="1610.8" cy="1383.0" r="8.1"/>
<circle cx="1626.6" cy="1376.5" r="8.1"/>
<circle cx="1741.5" cy="1382.0" r="8.1"/>
<circle cx="1757.0" cy="1383.0" r="8.1"/>
<circle cx="1740.1" cy="1382.8" r="8.1"/>
<circle cx="1751.9" cy="1387.9" r="8.1"/>
<circle cx="1752.2" cy="1386.5" r="8.1"/>
<circle cx="1738.5" cy="1386.9" r="8.1"/>
<circle cx="1751.8" cy="1383.4" r="8.1"/>
<circle cx="1869.3" cy="1389.7" r="8.1"/>
<circle cx="2056.5" cy="1389.6" r="8.1"/>
<circle cx="2056.8" cy="1389.6" r="8.1"/>
<circle cx="2057.1" cy="1389.6" r="8.1"/>
<circle cx="2056.8" cy="1389.6" r="8.1"/>
<circle cx="2260.2" cy="1364.4" r="8.1"/>
</g>
<g fill="#FF6A9A" stroke="#FF6A9A">
<circle cx="204.9" cy="1389.9" r="8.1"/>
<circle cx="215.4" cy="1389.9" r="8.1"/>
<circle cx="206.2" cy="1389.9" r="8.1"/>
<circle cx="207.2" cy="1389.9" r="8.1"/>
<circle cx="211.5" cy="1389.9" r="8.1"/>
<circle cx="214.9" cy="1389.9" r="8.1"/>
<circle cx="211.0" cy="1389.9" r="8.1"/>
<circle cx="209.1" cy="1389.9" r="8.1"/>
<circle cx="215.2" cy="1389.9" r="8.1"/>
<circle cx="205.4" cy="1389.9" r="8.1"/>
<circle cx="213.9" cy="1389.9" r="8.1"/>
<circle cx="207.9" cy="1389.9" r="8.1"/>
<circle cx="220.4" cy="1389.9" r="8.1"/>
<circle cx="229.9" cy="1389.9" r="8.1"/>
<circle cx="221.8" cy="1389.9" r="8.1"/>
<circle cx="221.5" cy="1389.9" r="8.1"/>
<circle cx="223.3" cy="1389.9" r="8.1"/>
<circle cx="228.2" cy="1389.9" r="8.1"/>
<circle cx="222.1" cy="1389.9" r="8.1"/>
<circle cx="225.9" cy="1389.9" r="8.1"/>
<circle cx="226.5" cy="1389.9" r="8.1"/>
<circle cx="223.9" cy="1389.9" r="8.1"/>
<circle cx="225.6" cy="1389.9" r="8.1"/>
<circle cx="221.0" cy="1389.9" r="8.1"/>
<circle cx="268.4" cy="1389.9" r="8.1"/>
<circle cx="293.8" cy="1389.9" r="8.1"/>
<circle cx="286.9" cy="1389.9" r="8.1"/>
<circle cx="275.7" cy="1389.9" r="8.1"/>
<circle cx="293.3" cy="1389.9" r="8.1"/>
<circle cx="271.4" cy="1389.9" r="8.1"/>
<circle cx="279.0" cy="1389.9" r="8.1"/>
<circle cx="287.6" cy="1389.9" r="8.1"/>
<circle cx="272.2" cy="1389.9" r="8.1"/>
<circle cx="280.8" cy="1389.9" r="8.1"/>
<circle cx="269.4" cy="1389.9" r="8.1"/>
<circle cx="285.3" cy="1389.9" r="8.1"/>
<circle cx="287.8" cy="1389.9" r="8.1"/>
<circle cx="282.9" cy="1389.9" r="8.1"/>
<circle cx="290.6" cy="1389.9" r="8.1"/>
<circle cx="276.3" cy="1389.9" r="8.1"/>
<circle cx="286.0" cy="1389.9" r="8.1"/>
<circle cx="283.5" cy="1389.9" r="8.1"/>
<circle cx="283.1" cy="1389.9" r="8.1"/>
<circle cx="280.0" cy="1389.9" r="8.1"/>
<circle cx="289.7" cy="1389.9" r="8.1"/>
<circle cx="292.4" cy="1389.9" r="8.1"/>
<circle cx="280.4" cy="1389.9" r="8.1"/>
<circle cx="285.2" cy="1389.9" r="8.1"/>
<circle cx="269.9" cy="1389.9" r="8.1"/>
<circle cx="286.2" cy="1389.9" r="8.1"/>
<circle cx="284.8" cy="1389.9" r="8.1"/>
<circle cx="293.6" cy="1389.9" r="8.1"/>
<circle cx="289.3" cy="1389.9" r="8.1"/>
<circle cx="275.6" cy="1389.9" r="8.1"/>
<circle cx="278.2" cy="1389.9" r="8.1"/>
<circle cx="285.4" cy="1389.9" r="8.1"/>
<circle cx="268.9" cy="1389.9" r="8.1"/>
<circle cx="280.1" cy="1389.9" r="8.1"/>
<circle cx="272.6" cy="1389.9" r="8.1"/>
<circle cx="271.3" cy="1389.9" r="8.1"/>
<circle cx="269.9" cy="1389.9" r="8.1"/>
<circle cx="287.9" cy="1389.9" r="8.1"/>
<circle cx="271.7" cy="1389.9" r="8.1"/>
<circle cx="274.7" cy="1389.9" r="8.1"/>
<circle cx="288.5" cy="1388.1" r="8.1"/>
<circle cx="280.1" cy="1389.8" r="8.1"/>
<circle cx="288.7" cy="1386.9" r="8.1"/>
<circle cx="288.4" cy="1384.2" r="8.1"/>
<circle cx="279.4" cy="1388.9" r="8.1"/>
<circle cx="288.8" cy="1388.4" r="8.1"/>
<circle cx="274.1" cy="1382.5" r="8.1"/>
<circle cx="275.7" cy="1389.4" r="8.1"/>
<circle cx="280.8" cy="1389.1" r="8.1"/>
<circle cx="276.3" cy="1386.5" r="8.1"/>
<circle cx="279.5" cy="1389.9" r="8.1"/>
<circle cx="282.4" cy="1388.3" r="8.1"/>
<circle cx="284.9" cy="1382.6" r="8.1"/>
<circle cx="283.4" cy="1387.2" r="8.1"/>
<circle cx="272.2" cy="1385.7" r="8.1"/>
<circle cx="286.7" cy="1383.2" r="8.1"/>
<circle cx="287.0" cy="1383.5" r="8.1"/>
<circle cx="279.1" cy="1388.1" r="8.1"/>
<circle cx="525.8" cy="1389.9" r="8.1"/>
<circle cx="545.8" cy="1389.9" r="8.1"/>
<circle cx="526.1" cy="1389.9" r="8.1"/>
<circle cx="530.8" cy="1389.9" r="8.1"/>
<circle cx="526.1" cy="1389.9" r="8.1"/>
<circle cx="540.4" cy="1389.9" r="8.1"/>
<circle cx="536.8" cy="1389.9" r="8.1"/>
<circle cx="529.6" cy="1389.9" r="8.1"/>
<circle cx="535.3" cy="1389.9" r="8.1"/>
<circle cx="544.5" cy="1389.9" r="8.1"/>
<circle cx="527.9" cy="1389.9" r="8.1"/>
<circle cx="542.1" cy="1389.9" r="8.1"/>
<circle cx="534.4" cy="1389.9" r="8.1"/>
<circle cx="535.7" cy="1389.9" r="8.1"/>
<circle cx="542.5" cy="1389.9" r="8.1"/>
<circle cx="533.6" cy="1389.9" r="8.1"/>
<circle cx="535.9" cy="1389.9" r="8.1"/>
<circle cx="539.5" cy="1389.9" r="8.1"/>
<circle cx="545.4" cy="1389.9" r="8.1"/>
<circle cx="532.6" cy="1389.9" r="8.1"/>
<circle cx="542.4" cy="1389.9" r="8.1"/>
<circle cx="539.9" cy="1389.9" r="8.1"/>
<circle cx="538.5" cy="1389.9" r="8.1"/>
<circle cx="533.9" cy="1389.9" r="8.1"/>
<circle cx="532.7" cy="1389.9" r="8.1"/>
<circle cx="526.8" cy="1389.9" r="8.1"/>
<circle cx="528.4" cy="1389.9" r="8.1"/>
<circle cx="527.2" cy="1389.9" r="8.1"/>
<circle cx="540.6" cy="1389.9" r="8.1"/>
<circle cx="530.9" cy="1389.9" r="8.1"/>
<circle cx="528.3" cy="1389.4" r="8.1"/>
<circle cx="542.4" cy="1383.2" r="8.1"/>
<circle cx="531.8" cy="1385.2" r="8.1"/>
<circle cx="532.0" cy="1389.0" r="8.1"/>
<circle cx="529.6" cy="1387.3" r="8.1"/>
<circle cx="531.5" cy="1387.5" r="8.1"/>
<circle cx="544.3" cy="1381.5" r="8.1"/>
<circle cx="531.2" cy="1386.5" r="8.1"/>
<circle cx="532.3" cy="1381.5" r="8.1"/>
<circle cx="526.8" cy="1388.2" r="8.1"/>
<circle cx="655.1" cy="1389.9" r="8.1"/>
<circle cx="671.1" cy="1389.9" r="8.1"/>
<circle cx="658.1" cy="1389.9" r="8.1"/>
<circle cx="661.1" cy="1389.9" r="8.1"/>
<circle cx="670.4" cy="1389.9" r="8.1"/>
<circle cx="669.3" cy="1389.9" r="8.1"/>
<circle cx="668.1" cy="1389.9" r="8.1"/>
<circle cx="665.2" cy="1389.9" r="8.1"/>
<circle cx="669.7" cy="1389.9" r="8.1"/>
<circle cx="670.2" cy="1389.9" r="8.1"/>
<circle cx="663.9" cy="1389.9" r="8.1"/>
<circle cx="666.6" cy="1389.9" r="8.1"/>
<circle cx="655.9" cy="1389.9" r="8.1"/>
<circle cx="666.8" cy="1389.9" r="8.1"/>
<circle cx="662.3" cy="1389.9" r="8.1"/>
<circle cx="667.1" cy="1389.9" r="8.1"/>
<circle cx="665.4" cy="1389.9" r="8.1"/>
<circle cx="659.7" cy="1389.9" r="8.1"/>
<circle cx="655.9" cy="1389.9" r="8.1"/>
<circle cx="669.9" cy="1389.9" r="8.1"/>
<circle cx="662.7" cy="1388.8" r="8.1"/>
<circle cx="660.3" cy="1386.8" r="8.1"/>
<circle cx="669.8" cy="1383.3" r="8.1"/>
<circle cx="665.3" cy="1387.6" r="8.1"/>
<circle cx="663.9" cy="1387.2" r="8.1"/>
<circle cx="658.4" cy="1386.4" r="8.1"/>
<circle cx="659.0" cy="1388.5" r="8.1"/>
<circle cx="663.1" cy="1381.8" r="8.1"/>
<circle cx="668.8" cy="1387.9" r="8.1"/>
<circle cx="662.4" cy="1381.0" r="8.1"/>
<circle cx="969.2" cy="1389.9" r="8.1"/>
<circle cx="993.8" cy="1389.9" r="8.1"/>
<circle cx="975.6" cy="1389.9" r="8.1"/>
<circle cx="981.6" cy="1389.9" r="8.1"/>
<circle cx="977.0" cy="1389.9" r="8.1"/>
<circle cx="970.1" cy="1389.9" r="8.1"/>
<circle cx="973.6" cy="1389.9" r="8.1"/>
<circle cx="973.1" cy="1389.9" r="8.1"/>
<circle cx="992.2" cy="1389.9" r="8.1"/>
<circle cx="985.9" cy="1389.9" r="8.1"/>
<circle cx="991.2" cy="1389.9" r="8.1"/>
<circle cx="973.3" cy="1389.9" r="8.1"/>
<circle cx="988.5" cy="1389.9" r="8.1"/>
<circle cx="972.0" cy="1389.9" r="8.1"/>
<circle cx="982.2" cy="1389.9" r="8.1"/>
<circle cx="984.8" cy="1389.9" r="8.1"/>
<circle cx="978.0" cy="1389.9" r="8.1"/>
<circle cx="990.6" cy="1389.9" r="8.1"/>
<circle cx="982.8" cy="1389.9" r="8.1"/>
<circle cx="983.4" cy="1389.9" r="8.1"/>
<circle cx="990.9" cy="1389.9" r="8.1"/>
<circle cx="971.7" cy="1389.9" r="8.1"/>
<circle cx="993.6" cy="1389.9" r="8.1"/>
<circle cx="984.7" cy="1389.9" r="8.1"/>
<circle cx="978.9" cy="1389.9" r="8.1"/>
<circle cx="988.8" cy="1389.9" r="8.1"/>
<circle cx="975.7" cy="1389.9" r="8.1"/>
<circle cx="993.5" cy="1389.9" r="8.1"/>
<circle cx="983.4" cy="1389.9" r="8.1"/>
<circle cx="978.0" cy="1389.9" r="8.1"/>
<circle cx="988.0" cy="1389.9" r="8.1"/>
<circle cx="980.0" cy="1389.9" r="8.1"/>
<circle cx="973.5" cy="1389.9" r="8.1"/>
<circle cx="987.5" cy="1389.9" r="8.1"/>
<circle cx="970.4" cy="1389.9" r="8.1"/>
<circle cx="989.3" cy="1389.9" r="8.1"/>
<circle cx="975.4" cy="1389.9" r="8.1"/>
<circle cx="984.9" cy="1389.9" r="8.1"/>
<circle cx="993.4" cy="1389.9" r="8.1"/>
<circle cx="983.6" cy="1389.9" r="8.1"/>
<circle cx="1287.1" cy="1389.9" r="8.1"/>
<circle cx="1312.5" cy="1389.9" r="8.1"/>
<circle cx="1303.2" cy="1389.9" r="8.1"/>
<circle cx="1308.1" cy="1389.9" r="8.1"/>
<circle cx="1303.2" cy="1389.9" r="8.1"/>
<circle cx="1294.4" cy="1389.9" r="8.1"/>
<circle cx="1289.7" cy="1389.9" r="8.1"/>
<circle cx="1289.6" cy="1389.9" r="8.1"/>
<circle cx="1306.4" cy="1389.9" r="8.1"/>
<circle cx="1292.3" cy="1389.9" r="8.1"/>
<circle cx="1295.2" cy="1389.9" r="8.1"/>
<circle cx="1297.9" cy="1389.9" r="8.1"/>
<circle cx="1287.7" cy="1389.9" r="8.1"/>
<circle cx="1293.6" cy="1389.9" r="8.1"/>
<circle cx="1294.3" cy="1389.9" r="8.1"/>
<circle cx="1305.3" cy="1389.9" r="8.1"/>
<circle cx="1296.5" cy="1389.9" r="8.1"/>
<circle cx="1295.3" cy="1389.9" r="8.1"/>
<circle cx="1311.6" cy="1389.9" r="8.1"/>
<circle cx="1299.9" cy="1389.9" r="8.1"/>
<circle cx="1308.7" cy="1389.9" r="8.1"/>
<circle cx="1302.8" cy="1389.9" r="8.1"/>
<circle cx="1287.9" cy="1389.9" r="8.1"/>
<circle cx="1297.6" cy="1389.9" r="8.1"/>
<circle cx="1298.2" cy="1389.9" r="8.1"/>
<circle cx="1306.8" cy="1389.9" r="8.1"/>
<circle cx="1295.9" cy="1389.9" r="8.1"/>
<circle cx="1305.0" cy="1389.9" r="8.1"/>
<circle cx="1300.8" cy="1389.9" r="8.1"/>
<circle cx="1292.6" cy="1389.9" r="8.1"/>
<circle cx="1309.0" cy="1389.9" r="8.1"/>
<circle cx="1289.4" cy="1389.9" r="8.1"/>
<circle cx="1307.9" cy="1389.9" r="8.1"/>
<circle cx="1291.4" cy="1389.9" r="8.1"/>
<circle cx="1287.2" cy="1389.9" r="8.1"/>
<circle cx="1292.3" cy="1389.9" r="8.1"/>
<circle cx="1306.5" cy="1389.9" r="8.1"/>
<circle cx="1312.0" cy="1389.9" r="8.1"/>
<circle cx="1287.2" cy="1389.9" r="8.1"/>
<circle cx="1299.6" cy="1389.9" r="8.1"/>
<circle cx="1306.4" cy="1388.0" r="8.1"/>
<circle cx="1299.7" cy="1389.2" r="8.1"/>
<circle cx="1307.1" cy="1388.5" r="8.1"/>
<circle cx="1309.6" cy="1388.9" r="8.1"/>
<circle cx="1293.5" cy="1388.8" r="8.1"/>
<circle cx="1299.8" cy="1387.2" r="8.1"/>
<circle cx="1302.8" cy="1389.5" r="8.1"/>
<circle cx="1306.2" cy="1389.6" r="8.1"/>
<circle cx="1350.8" cy="1389.9" r="8.1"/>
<circle cx="1376.2" cy="1389.9" r="8.1"/>
<circle cx="1369.9" cy="1389.9" r="8.1"/>
<circle cx="1367.2" cy="1389.9" r="8.1"/>
<circle cx="1359.6" cy="1389.9" r="8.1"/>
<circle cx="1359.1" cy="1389.9" r="8.1"/>
<circle cx="1354.7" cy="1389.9" r="8.1"/>
<circle cx="1372.2" cy="1389.9" r="8.1"/>
<circle cx="1367.6" cy="1389.9" r="8.1"/>
<circle cx="1369.6" cy="1389.9" r="8.1"/>
<circle cx="1355.1" cy="1389.9" r="8.1"/>
<circle cx="1361.9" cy="1389.9" r="8.1"/>
<circle cx="1370.4" cy="1389.9" r="8.1"/>
<circle cx="1365.5" cy="1389.9" r="8.1"/>
<circle cx="1354.0" cy="1389.9" r="8.1"/>
<circle cx="1362.5" cy="1389.9" r="8.1"/>
<circle cx="1373.3" cy="1389.9" r="8.1"/>
<circle cx="1356.8" cy="1389.9" r="8.1"/>
<circle cx="1355.7" cy="1389.9" r="8.1"/>
<circle cx="1358.5" cy="1389.9" r="8.1"/>
<circle cx="1368.7" cy="1389.9" r="8.1"/>
<circle cx="1372.2" cy="1389.9" r="8.1"/>
<circle cx="1354.7" cy="1389.9" r="8.1"/>
<circle cx="1354.8" cy="1389.9" r="8.1"/>
<circle cx="1357.1" cy="1389.9" r="8.1"/>
<circle cx="1359.1" cy="1389.9" r="8.1"/>
<circle cx="1364.1" cy="1389.9" r="8.1"/>
<circle cx="1354.9" cy="1389.9" r="8.1"/>
<circle cx="1359.1" cy="1389.9" r="8.1"/>
<circle cx="1355.6" cy="1389.9" r="8.1"/>
<circle cx="1375.6" cy="1389.9" r="8.1"/>
<circle cx="1369.3" cy="1389.9" r="8.1"/>
<circle cx="1353.4" cy="1389.9" r="8.1"/>
<circle cx="1375.2" cy="1389.9" r="8.1"/>
<circle cx="1353.4" cy="1389.9" r="8.1"/>
<circle cx="1360.6" cy="1389.9" r="8.1"/>
<circle cx="1375.8" cy="1389.9" r="8.1"/>
<circle cx="1371.0" cy="1389.9" r="8.1"/>
<circle cx="1369.4" cy="1389.9" r="8.1"/>
<circle cx="1361.8" cy="1389.9" r="8.1"/>
<circle cx="1368.3" cy="1388.9" r="8.1"/>
<circle cx="1359.6" cy="1389.4" r="8.1"/>
<circle cx="1356.2" cy="1388.0" r="8.1"/>
<circle cx="1371.3" cy="1387.9" r="8.1"/>
<circle cx="1365.5" cy="1386.5" r="8.1"/>
<circle cx="1364.8" cy="1386.8" r="8.1"/>
<circle cx="1367.6" cy="1389.2" r="8.1"/>
<circle cx="1370.3" cy="1387.9" r="8.1"/>
<circle cx="1364.1" cy="1385.5" r="8.1"/>
<circle cx="1370.5" cy="1387.1" r="8.1"/>
<circle cx="1542.0" cy="1389.9" r="8.1"/>
<circle cx="1567.0" cy="1389.9" r="8.1"/>
<circle cx="1552.3" cy="1389.9" r="8.1"/>
<circle cx="1565.7" cy="1389.9" r="8.1"/>
<circle cx="1547.3" cy="1389.9" r="8.1"/>
<circle cx="1559.1" cy="1389.9" r="8.1"/>
<circle cx="1551.8" cy="1389.9" r="8.1"/>
<circle cx="1561.1" cy="1389.9" r="8.1"/>
<circle cx="1545.1" cy="1389.9" r="8.1"/>
<circle cx="1566.6" cy="1389.9" r="8.1"/>
<circle cx="1550.9" cy="1389.9" r="8.1"/>
<circle cx="1543.4" cy="1389.9" r="8.1"/>
<circle cx="1548.9" cy="1389.9" r="8.1"/>
<circle cx="1552.0" cy="1389.9" r="8.1"/>
<circle cx="1542.3" cy="1389.9" r="8.1"/>
<circle cx="1552.5" cy="1389.9" r="8.1"/>
<circle cx="1552.5" cy="1389.9" r="8.1"/>
<circle cx="1559.5" cy="1389.9" r="8.1"/>
<circle cx="1550.8" cy="1389.9" r="8.1"/>
<circle cx="1548.6" cy="1389.9" r="8.1"/>
<circle cx="1547.6" cy="1389.9" r="8.1"/>
<circle cx="1560.5" cy="1389.9" r="8.1"/>
<circle cx="1565.5" cy="1389.9" r="8.1"/>
<circle cx="1555.2" cy="1389.9" r="8.1"/>
<circle cx="1547.5" cy="1389.9" r="8.1"/>
<circle cx="1562.0" cy="1389.9" r="8.1"/>
<circle cx="1551.8" cy="1389.9" r="8.1"/>
<circle cx="1547.3" cy="1389.9" r="8.1"/>
<circle cx="1545.2" cy="1389.9" r="8.1"/>
<circle cx="1561.4" cy="1389.9" r="8.1"/>
<circle cx="1562.2" cy="1389.9" r="8.1"/>
<circle cx="1557.9" cy="1389.9" r="8.1"/>
<circle cx="1553.7" cy="1389.9" r="8.1"/>
<circle cx="1556.1" cy="1389.9" r="8.1"/>
<circle cx="1547.7" cy="1389.9" r="8.1"/>
<circle cx="1566.1" cy="1389.9" r="8.1"/>
<circle cx="1550.8" cy="1389.9" r="8.1"/>
<circle cx="1558.0" cy="1389.9" r="8.1"/>
<circle cx="1562.5" cy="1389.9" r="8.1"/>
<circle cx="1562.4" cy="1389.9" r="8.1"/>
<circle cx="1550.4" cy="1387.8" r="8.1"/>
<circle cx="1547.0" cy="1387.5" r="8.1"/>
<circle cx="1551.6" cy="1386.2" r="8.1"/>
<circle cx="1549.9" cy="1386.2" r="8.1"/>
<circle cx="1549.6" cy="1388.2" r="8.1"/>
<circle cx="1548.2" cy="1388.0" r="8.1"/>
<circle cx="1558.9" cy="1389.9" r="8.1"/>
<circle cx="1549.4" cy="1388.7" r="8.1"/>
<circle cx="1554.1" cy="1388.6" r="8.1"/>
<circle cx="1557.3" cy="1388.0" r="8.1"/>
<circle cx="1605.5" cy="1389.9" r="8.1"/>
<circle cx="1630.9" cy="1389.9" r="8.1"/>
<circle cx="1622.2" cy="1389.9" r="8.1"/>
<circle cx="1614.7" cy="1389.9" r="8.1"/>
<circle cx="1629.1" cy="1389.9" r="8.1"/>
<circle cx="1627.2" cy="1389.9" r="8.1"/>
<circle cx="1606.9" cy="1389.9" r="8.1"/>
<circle cx="1626.5" cy="1389.9" r="8.1"/>
<circle cx="1628.5" cy="1389.9" r="8.1"/>
<circle cx="1625.4" cy="1389.9" r="8.1"/>
<circle cx="1609.0" cy="1389.9" r="8.1"/>
<circle cx="1626.6" cy="1389.9" r="8.1"/>
<circle cx="1621.6" cy="1389.9" r="8.1"/>
<circle cx="1605.9" cy="1389.9" r="8.1"/>
<circle cx="1605.8" cy="1389.9" r="8.1"/>
<circle cx="1629.7" cy="1389.9" r="8.1"/>
<circle cx="1622.1" cy="1389.9" r="8.1"/>
<circle cx="1611.8" cy="1389.9" r="8.1"/>
<circle cx="1608.1" cy="1389.9" r="8.1"/>
<circle cx="1609.1" cy="1389.9" r="8.1"/>
<circle cx="1611.4" cy="1389.9" r="8.1"/>
<circle cx="1625.2" cy="1389.9" r="8.1"/>
<circle cx="1614.3" cy="1389.9" r="8.1"/>
<circle cx="1609.4" cy="1389.9" r="8.1"/>
<circle cx="1628.4" cy="1389.9" r="8.1"/>
<circle cx="1625.6" cy="1389.9" r="8.1"/>
<circle cx="1609.7" cy="1389.9" r="8.1"/>
<circle cx="1628.1" cy="1389.9" r="8.1"/>
<circle cx="1620.9" cy="1389.9" r="8.1"/>
<circle cx="1625.3" cy="1389.9" r="8.1"/>
<circle cx="1622.5" cy="1389.9" r="8.1"/>
<circle cx="1628.2" cy="1389.9" r="8.1"/>
<circle cx="1625.5" cy="1389.9" r="8.1"/>
<circle cx="1626.8" cy="1389.9" r="8.1"/>
<circle cx="1610.5" cy="1389.9" r="8.1"/>
<circle cx="1623.1" cy="1389.9" r="8.1"/>
<circle cx="1619.0" cy="1389.9" r="8.1"/>
<circle cx="1624.3" cy="1389.9" r="8.1"/>
<circle cx="1616.6" cy="1389.9" r="8.1"/>
<circle cx="1627.9" cy="1389.9" r="8.1"/>
<circle cx="1619.6" cy="1389.9" r="8.1"/>
<circle cx="1612.2" cy="1389.9" r="8.1"/>
<circle cx="1611.4" cy="1389.9" r="8.1"/>
<circle cx="1609.0" cy="1389.9" r="8.1"/>
<circle cx="1618.0" cy="1389.9" r="8.1"/>
<circle cx="1607.0" cy="1389.9" r="8.1"/>
<circle cx="1617.3" cy="1389.9" r="8.1"/>
<circle cx="1609.1" cy="1389.9" r="8.1"/>
<circle cx="1618.0" cy="1389.9" r="8.1"/>
<circle cx="1618.1" cy="1389.9" r="8.1"/>
<circle cx="1627.4" cy="1382.4" r="8.1"/>
<circle cx="1626.8" cy="1389.8" r="8.1"/>
<circle cx="1619.8" cy="1383.4" r="8.1"/>
<circle cx="1626.8" cy="1380.7" r="8.1"/>
<circle cx="1616.1" cy="1384.7" r="8.1"/>
<circle cx="1607.4" cy="1376.5" r="8.1"/>
<circle cx="1621.6" cy="1381.0" r="8.1"/>
<circle cx="1621.0" cy="1389.5" r="8.1"/>
<circle cx="1629.1" cy="1380.4" r="8.1"/>
<circle cx="1630.4" cy="1385.3" r="8.1"/>
<circle cx="1617.8" cy="1382.8" r="8.1"/>
<circle cx="1606.3" cy="1377.4" r="8.1"/>
<circle cx="1621.4" cy="1379.9" r="8.1"/>
<circle cx="1627.4" cy="1385.2" r="8.1"/>
<circle cx="1617.5" cy="1384.8" r="8.1"/>
<circle cx="1625.1" cy="1382.6" r="8.1"/>
<circle cx="1616.5" cy="1387.0" r="8.1"/>
<circle cx="1619.6" cy="1384.0" r="8.1"/>
<circle cx="1612.9" cy="1378.4" r="8.1"/>
<circle cx="1615.7" cy="1378.4" r="8.1"/>
<circle cx="1612.4" cy="1382.9" r="8.1"/>
<circle cx="1630.2" cy="1382.9" r="8.1"/>
<circle cx="1625.6" cy="1380.8" r="8.1"/>
<circle cx="1613.5" cy="1385.3" r="8.1"/>
<circle cx="1620.4" cy="1385.7" r="8.1"/>
<circle cx="1625.4" cy="1381.1" r="8.1"/>
<circle cx="1623.8" cy="1389.3" r="8.1"/>
<circle cx="1619.3" cy="1377.6" r="8.1"/>
<circle cx="1613.1" cy="1389.2" r="8.1"/>
<circle cx="1610.3" cy="1389.8" r="8.1"/>
<circle cx="1620.9" cy="1377.1" r="8.1"/>
<circle cx="1625.5" cy="1380.8" r="8.1"/>
<circle cx="1621.0" cy="1377.3" r="8.1"/>
<circle cx="1621.4" cy="1381.3" r="8.1"/>
<circle cx="1620.6" cy="1380.2" r="8.1"/>
<circle cx="1611.0" cy="1375.0" r="8.1"/>
<circle cx="1621.0" cy="1374.0" r="8.1"/>
<circle cx="1629.0" cy="1376.0" r="8.1"/>
<circle cx="1678.9" cy="1389.9" r="8.1"/>
<circle cx="1694.6" cy="1389.9" r="8.1"/>
<circle cx="1685.6" cy="1389.9" r="8.1"/>
<circle cx="1688.9" cy="1389.9" r="8.1"/>
<circle cx="1693.5" cy="1389.9" r="8.1"/>
<circle cx="1679.7" cy="1389.9" r="8.1"/>
<circle cx="1687.8" cy="1389.9" r="8.1"/>
<circle cx="1679.5" cy="1389.9" r="8.1"/>
<circle cx="1680.7" cy="1389.9" r="8.1"/>
<circle cx="1691.6" cy="1389.9" r="8.1"/>
<circle cx="1687.9" cy="1389.9" r="8.1"/>
<circle cx="1693.3" cy="1389.9" r="8.1"/>
<circle cx="1685.9" cy="1389.9" r="8.1"/>
<circle cx="1679.1" cy="1389.9" r="8.1"/>
<circle cx="1684.9" cy="1389.9" r="8.1"/>
<circle cx="1688.1" cy="1389.9" r="8.1"/>
<circle cx="1693.6" cy="1389.9" r="8.1"/>
<circle cx="1694.3" cy="1389.9" r="8.1"/>
<circle cx="1686.3" cy="1389.9" r="8.1"/>
<circle cx="1685.3" cy="1389.9" r="8.1"/>
<circle cx="1680.5" cy="1389.9" r="8.1"/>
<circle cx="1689.0" cy="1389.9" r="8.1"/>
<circle cx="1682.2" cy="1389.9" r="8.1"/>
<circle cx="1681.2" cy="1389.9" r="8.1"/>
<circle cx="1679.1" cy="1389.9" r="8.1"/>
<circle cx="1678.9" cy="1389.9" r="8.1"/>
<circle cx="1689.6" cy="1389.9" r="8.1"/>
<circle cx="1680.8" cy="1389.9" r="8.1"/>
<circle cx="1694.0" cy="1389.9" r="8.1"/>
<circle cx="1680.2" cy="1389.9" r="8.1"/>
<circle cx="1732.8" cy="1389.9" r="8.1"/>
<circle cx="1758.2" cy="1389.9" r="8.1"/>
<circle cx="1754.6" cy="1389.9" r="8.1"/>
<circle cx="1751.4" cy="1389.9" r="8.1"/>
<circle cx="1735.0" cy="1389.9" r="8.1"/>
<circle cx="1748.8" cy="1389.9" r="8.1"/>
<circle cx="1750.8" cy="1389.9" r="8.1"/>
<circle cx="1744.5" cy="1389.9" r="8.1"/>
<circle cx="1756.5" cy="1389.9" r="8.1"/>
<circle cx="1739.3" cy="1389.9" r="8.1"/>
<circle cx="1757.3" cy="1389.9" r="8.1"/>
<circle cx="1751.0" cy="1389.9" r="8.1"/>
<circle cx="1733.1" cy="1389.9" r="8.1"/>
<circle cx="1733.2" cy="1389.9" r="8.1"/>
<circle cx="1749.4" cy="1389.9" r="8.1"/>
<circle cx="1753.6" cy="1389.9" r="8.1"/>
<circle cx="1734.8" cy="1389.9" r="8.1"/>
<circle cx="1740.7" cy="1389.9" r="8.1"/>
<circle cx="1751.4" cy="1389.9" r="8.1"/>
<circle cx="1737.0" cy="1389.9" r="8.1"/>
<circle cx="1754.7" cy="1389.9" r="8.1"/>
<circle cx="1745.2" cy="1389.9" r="8.1"/>
<circle cx="1734.3" cy="1389.9" r="8.1"/>
<circle cx="1742.2" cy="1389.9" r="8.1"/>
<circle cx="1747.4" cy="1389.9" r="8.1"/>
<circle cx="1744.0" cy="1389.9" r="8.1"/>
<circle cx="1750.0" cy="1389.9" r="8.1"/>
<circle cx="1736.5" cy="1389.9" r="8.1"/>
<circle cx="1753.1" cy="1389.9" r="8.1"/>
<circle cx="1742.1" cy="1389.9" r="8.1"/>
<circle cx="1749.2" cy="1389.9" r="8.1"/>
<circle cx="1748.8" cy="1389.9" r="8.1"/>
<circle cx="1743.4" cy="1389.9" r="8.1"/>
<circle cx="1742.6" cy="1389.9" r="8.1"/>
<circle cx="1752.8" cy="1389.9" r="8.1"/>
<circle cx="1756.8" cy="1389.9" r="8.1"/>
<circle cx="1752.8" cy="1389.9" r="8.1"/>
<circle cx="1747.2" cy="1389.9" r="8.1"/>
<circle cx="1740.3" cy="1389.9" r="8.1"/>
<circle cx="1734.4" cy="1389.9" r="8.1"/>
<circle cx="1749.6" cy="1385.6" r="8.1"/>
<circle cx="1742.2" cy="1386.3" r="8.1"/>
<circle cx="1755.1" cy="1387.2" r="8.1"/>
<circle cx="1747.5" cy="1386.2" r="8.1"/>
<circle cx="1744.1" cy="1388.5" r="8.1"/>
<circle cx="1743.1" cy="1386.0" r="8.1"/>
<circle cx="1747.6" cy="1386.9" r="8.1"/>
<circle cx="1751.7" cy="1386.0" r="8.1"/>
<circle cx="1925.0" cy="1389.9" r="8.1"/>
<circle cx="1948.0" cy="1389.9" r="8.1"/>
<circle cx="1943.6" cy="1389.9" r="8.1"/>
<circle cx="1942.8" cy="1389.9" r="8.1"/>
<circle cx="1930.4" cy="1389.9" r="8.1"/>
<circle cx="1938.4" cy="1389.9" r="8.1"/>
<circle cx="1945.7" cy="1389.9" r="8.1"/>
<circle cx="1945.4" cy="1389.9" r="8.1"/>
<circle cx="1937.0" cy="1389.9" r="8.1"/>
<circle cx="1936.0" cy="1389.9" r="8.1"/>
<circle cx="1938.6" cy="1389.9" r="8.1"/>
<circle cx="1929.4" cy="1389.9" r="8.1"/>
<circle cx="1929.5" cy="1389.9" r="8.1"/>
<circle cx="1929.2" cy="1389.9" r="8.1"/>
<circle cx="1941.2" cy="1389.9" r="8.1"/>
<circle cx="1933.4" cy="1389.9" r="8.1"/>
<circle cx="1938.0" cy="1389.9" r="8.1"/>
<circle cx="1934.3" cy="1389.9" r="8.1"/>
<circle cx="1936.9" cy="1389.9" r="8.1"/>
<circle cx="1928.5" cy="1389.9" r="8.1"/>
<circle cx="1926.1" cy="1389.9" r="8.1"/>
<circle cx="1948.0" cy="1389.9" r="8.1"/>
<circle cx="1933.6" cy="1389.9" r="8.1"/>
<circle cx="1927.5" cy="1389.9" r="8.1"/>
<circle cx="1939.6" cy="1389.9" r="8.1"/>
<circle cx="1943.1" cy="1389.9" r="8.1"/>
<circle cx="1928.6" cy="1389.9" r="8.1"/>
<circle cx="1938.8" cy="1389.9" r="8.1"/>
<circle cx="1933.0" cy="1389.9" r="8.1"/>
<circle cx="1937.0" cy="1389.9" r="8.1"/>
<circle cx="1925.5" cy="1389.9" r="8.1"/>
<circle cx="1925.8" cy="1389.9" r="8.1"/>
<circle cx="1947.8" cy="1389.9" r="8.1"/>
<circle cx="1945.0" cy="1389.9" r="8.1"/>
<circle cx="1936.2" cy="1389.9" r="8.1"/>
<circle cx="1938.1" cy="1389.9" r="8.1"/>
<circle cx="1931.1" cy="1389.9" r="8.1"/>
<circle cx="1943.0" cy="1389.9" r="8.1"/>
<circle cx="1934.8" cy="1389.9" r="8.1"/>
<circle cx="1946.8" cy="1389.9" r="8.1"/>
<circle cx="1936.0" cy="1388.0" r="8.1"/>
<circle cx="1987.5" cy="1389.9" r="8.1"/>
<circle cx="2008.2" cy="1389.9" r="8.1"/>
<circle cx="1988.3" cy="1389.9" r="8.1"/>
<circle cx="1991.7" cy="1389.9" r="8.1"/>
<circle cx="1991.3" cy="1389.9" r="8.1"/>
<circle cx="1989.2" cy="1389.9" r="8.1"/>
<circle cx="1988.6" cy="1389.9" r="8.1"/>
<circle cx="1999.0" cy="1389.9" r="8.1"/>
<circle cx="2005.5" cy="1389.9" r="8.1"/>
<circle cx="1997.0" cy="1389.9" r="8.1"/>
<circle cx="2007.1" cy="1389.9" r="8.1"/>
<circle cx="2006.3" cy="1389.9" r="8.1"/>
<circle cx="1988.8" cy="1389.9" r="8.1"/>
<circle cx="1999.9" cy="1389.9" r="8.1"/>
<circle cx="1995.7" cy="1389.9" r="8.1"/>
<circle cx="1990.0" cy="1389.9" r="8.1"/>
<circle cx="2007.4" cy="1389.9" r="8.1"/>
<circle cx="1992.8" cy="1389.9" r="8.1"/>
<circle cx="1999.2" cy="1389.9" r="8.1"/>
<circle cx="2000.8" cy="1389.9" r="8.1"/>
<circle cx="2007.3" cy="1389.9" r="8.1"/>
<circle cx="2001.4" cy="1389.9" r="8.1"/>
<circle cx="1995.6" cy="1389.9" r="8.1"/>
<circle cx="1996.8" cy="1389.9" r="8.1"/>
<circle cx="1990.8" cy="1389.9" r="8.1"/>
<circle cx="2007.5" cy="1389.9" r="8.1"/>
<circle cx="2008.0" cy="1389.9" r="8.1"/>
<circle cx="1992.1" cy="1389.9" r="8.1"/>
<circle cx="1988.3" cy="1389.9" r="8.1"/>
<circle cx="1992.8" cy="1389.9" r="8.1"/>
<circle cx="1994.8" cy="1389.9" r="8.1"/>
<circle cx="2006.2" cy="1389.9" r="8.1"/>
<circle cx="2006.2" cy="1389.9" r="8.1"/>
<circle cx="2004.8" cy="1389.9" r="8.1"/>
<circle cx="1988.5" cy="1389.9" r="8.1"/>
<circle cx="2012.0" cy="1389.7" r="8.1"/>
<circle cx="2178.5" cy="1389.9" r="8.1"/>
<circle cx="2203.9" cy="1389.9" r="8.1"/>
<circle cx="2199.4" cy="1389.9" r="8.1"/>
<circle cx="2191.7" cy="1389.9" r="8.1"/>
<circle cx="2197.3" cy="1389.9" r="8.1"/>
<circle cx="2197.4" cy="1389.9" r="8.1"/>
<circle cx="2197.8" cy="1389.9" r="8.1"/>
<circle cx="2190.6" cy="1389.9" r="8.1"/>
<circle cx="2198.5" cy="1389.9" r="8.1"/>
<circle cx="2196.5" cy="1389.9" r="8.1"/>
<circle cx="2201.8" cy="1389.9" r="8.1"/>
<circle cx="2181.8" cy="1389.9" r="8.1"/>
<circle cx="2200.6" cy="1389.9" r="8.1"/>
<circle cx="2178.6" cy="1389.9" r="8.1"/>
<circle cx="2198.0" cy="1389.9" r="8.1"/>
<circle cx="2193.4" cy="1389.9" r="8.1"/>
<circle cx="2191.2" cy="1389.9" r="8.1"/>
<circle cx="2203.0" cy="1389.9" r="8.1"/>
<circle cx="2193.1" cy="1389.9" r="8.1"/>
<circle cx="2189.1" cy="1389.9" r="8.1"/>
<circle cx="2198.4" cy="1389.9" r="8.1"/>
<circle cx="2200.7" cy="1389.9" r="8.1"/>
<circle cx="2194.0" cy="1389.9" r="8.1"/>
<circle cx="2188.2" cy="1389.9" r="8.1"/>
<circle cx="2190.0" cy="1389.9" r="8.1"/>
<circle cx="2190.2" cy="1389.9" r="8.1"/>
<circle cx="2196.9" cy="1389.9" r="8.1"/>
<circle cx="2186.0" cy="1389.9" r="8.1"/>
<circle cx="2188.4" cy="1389.9" r="8.1"/>
<circle cx="2192.6" cy="1389.9" r="8.1"/>
<circle cx="2188.3" cy="1389.9" r="8.1"/>
<circle cx="2186.7" cy="1389.9" r="8.1"/>
<circle cx="2198.5" cy="1389.9" r="8.1"/>
<circle cx="2200.1" cy="1389.9" r="8.1"/>
<circle cx="2191.2" cy="1389.9" r="8.1"/>
<circle cx="2189.8" cy="1389.9" r="8.1"/>
<circle cx="2183.2" cy="1389.9" r="8.1"/>
<circle cx="2186.2" cy="1389.9" r="8.1"/>
<circle cx="2182.2" cy="1389.9" r="8.1"/>
<circle cx="2193.1" cy="1389.9" r="8.1"/>
<circle cx="2193.3" cy="1389.9" r="8.1"/>
<circle cx="2180.8" cy="1389.9" r="8.1"/>
<circle cx="2201.9" cy="1389.9" r="8.1"/>
<circle cx="2186.8" cy="1389.9" r="8.1"/>
<circle cx="2199.9" cy="1389.9" r="8.1"/>
<circle cx="2199.8" cy="1389.9" r="8.1"/>
<circle cx="2202.9" cy="1389.9" r="8.1"/>
<circle cx="2183.7" cy="1389.9" r="8.1"/>
<circle cx="2189.4" cy="1389.9" r="8.1"/>
<circle cx="2201.7" cy="1389.9" r="8.1"/>
<circle cx="2180.4" cy="1389.8" r="8.1"/>
<circle cx="2191.2" cy="1383.7" r="8.1"/>
<circle cx="2197.8" cy="1379.9" r="8.1"/>
<circle cx="2203.2" cy="1384.0" r="8.1"/>
<circle cx="2191.6" cy="1384.3" r="8.1"/>
<circle cx="2188.6" cy="1382.4" r="8.1"/>
<circle cx="2193.5" cy="1386.0" r="8.1"/>
<circle cx="2202.0" cy="1386.1" r="8.1"/>
<circle cx="2191.8" cy="1382.5" r="8.1"/>
<circle cx="2188.2" cy="1388.8" r="8.1"/>
<circle cx="2192.7" cy="1385.5" r="8.1"/>
<circle cx="2200.3" cy="1383.6" r="8.1"/>
<circle cx="2190.9" cy="1379.4" r="8.1"/>
<circle cx="2194.2" cy="1385.1" r="8.1"/>
<circle cx="2187.5" cy="1379.0" r="8.1"/>
<circle cx="2198.8" cy="1384.1" r="8.1"/>
<circle cx="2186.9" cy="1388.0" r="8.1"/>
<circle cx="2199.1" cy="1379.2" r="8.1"/>
<circle cx="2181.9" cy="1384.3" r="8.1"/>
<circle cx="2195.8" cy="1380.1" r="8.1"/>
<circle cx="2203.0" cy="1381.0" r="8.1"/>
<circle cx="2189.3" cy="1380.2" r="8.1"/>
<circle cx="2186.2" cy="1388.2" r="8.1"/>
<circle cx="2191.3" cy="1384.3" r="8.1"/>
<circle cx="2183.6" cy="1387.8" r="8.1"/>
<circle cx="2193.7" cy="1383.0" r="8.1"/>
<circle cx="2203.1" cy="1386.1" r="8.1"/>
<circle cx="2180.2" cy="1383.0" r="8.1"/>
<circle cx="2198.1" cy="1385.4" r="8.1"/>
<circle cx="2195.8" cy="1386.6" r="8.1"/>
<circle cx="2193.0" cy="1372.0" r="8.1"/>
</g></g>
<g stroke="#333" stroke-width="4.45">
<line x1="167.74" x2="179.2" y1="1389.90" y2="1389.90"/>
<line x1="167.74" x2="179.2" y1="1118.70" y2="1118.70"/>
<line x1="167.74" x2="179.2" y1="847.50" y2="847.50"/>
<line x1="167.74" x2="179.2" y1="576.30" y2="576.30"/>
<line x1="167.74" x2="179.2" y1="305.10" y2="305.10"/>
<line x1="217.40" x2="217.40" y1="1451.1" y2="1462.56"/>
<line x1="281.07" x2="281.07" y1="1451.1" y2="1462.56"/>
<line x1="344.75" x2="344.75" y1="1451.1" y2="1462.56"/>
<line x1="408.42" x2="408.42" y1="1451.1" y2="1462.56"/>
<line x1="472.09" x2="472.09" y1="1451.1" y2="1462.56"/>
<line x1="535.76" x2="535.76" y1="1451.1" y2="1462.56"/>
<line x1="599.43" x2="599.43" y1="1451.1" y2="1462.56"/>
<line x1="663.10" x2="663.10" y1="1451.1" y2="1462.56"/>
<line x1="726.78" x2="726.78" y1="1451.1" y2="1462.56"/>
<line x1="790.45" x2="790.45" y1="1451.1" y2="1462.56"/>
<line x1="854.12" x2="854.12" y1="1451.1" y2="1462.56"/>
<line x1="917.79" x2="917.79" y1="1451.1" y2="1462.56"/>
<line x1="981.46" x2="981.46" y1="1451.1" y2="1462.56"/>
<line x1="1045.13" x2="1045.13" y1="1451.1" y2="1462.56"/>
<line x1="1108.81" x2="1108.81" y1="1451.1" y2="1462.56"/>
<line x1="1172.48" x2="1172.48" y1="1451.1" y2="1462.56"/>
<line x1="1236.15" x2="1236.15" y1="1451.1" y2="1462.56"/>
<line x1="1299.82" x2="1299.82" y1="1451.1" y2="1462.56"/>
<line x1="1363.49" x2="1363.49" y1="1451.1" y2="1462.56"/>
<line x1="1427.17" x2="1427.17" y1="1451.1" y2="1462.56"/>
<line x1="1490.84" x2="1490.84" y1="1451.1" y2="1462.56"/>
<line x1="1554.51" x2="1554.51" y1="1451.1" y2="1462.56"/>
<line x1="1618.18" x2="1618.18" y1="1451.1" y2="1462.56"/>
<line x1="1681.85" x2="1681.85" y1="1451.1" y2="1462.56"/>
<line x1="1745.52" x2="1745.52" y1="1451.1" y2="1462.56"/>
<line x1="1809.20" x2="1809.20" y1="1451.1" y2="1462.56"/>
<line x1="1872.87" x2="1872.87" y1="1451.1" y2="1462.56"/>
<line x1="1936.54" x2="1936.54" y1="1451.1" y2="1462.56"/>
<line x1="2000.21" x2="2000.21" y1="1451.1" y2="1462.56"/>
<line x1="2063.88" x2="2063.88" y1="1451.1" y2="1462.56"/>
<line x1="2127.55" x2="2127.55" y1="1451.1" y2="1462.56"/>
<line x1="2191.23" x2="2191.23" y1="1451.1" y2="1462.56"/>
<line x1="2254.90" x2="2254.90" y1="1451.1" y2="1462.56"/>
</g>
<g fill="#4D4D4D" font-size="36.67">
<text x="158.0" y="1402.4" text-anchor="end">0</text>
<text x="158.0" y="1131.2" text-anchor="end">1000</text>
<text x="158.0" y="860.0" text-anchor="end">2000</text>
<text x="158.0" y="588.8" text-anchor="end">3000</text>
<text x="158.0" y="317.6" text-anchor="end">4000</text>
<text transform="translate(230.6,1472) rotate(-90)" text-anchor="end">Astrocyte</text>
<text transform="translate(294.3,1472) rotate(-90)" text-anchor="end">B_cell</text>
<text transform="translate(357.9,1472) rotate(-90)" text-anchor="end">BM</text>
<text transform="translate(421.6,1472) rotate(-90)" text-anchor="end">Chondrocytes</text>
<text transform="translate(485.3,1472) rotate(-90)" text-anchor="end">CMP</text>
<text transform="translate(549.0,1472) rotate(-90)" text-anchor="end">DC</text>
<text transform="translate(612.6,1472) rotate(-90)" text-anchor="end">Embryonic_stem_cells</text>
<text transform="translate(676.3,1472) rotate(-90)" text-anchor="end">Endothelial_cells</text>
<text transform="translate(740.0,1472) rotate(-90)" text-anchor="end">Epithelial_cells</text>
<text transform="translate(803.6,1472) rotate(-90)" text-anchor="end">Erythroblast</text>
<text transform="translate(867.3,1472) rotate(-90)" text-anchor="end">Fibroblasts</text>
<text transform="translate(931.0,1472) rotate(-90)" text-anchor="end">Gametocytes</text>
<text transform="translate(994.7,1472) rotate(-90)" text-anchor="end">GMP</text>
<text transform="translate(1058.3,1472) rotate(-90)" text-anchor="end">Hepatocytes</text>
<text transform="translate(1122.0,1472) rotate(-90)" text-anchor="end">HSC_-G-CSF</text>
<text transform="translate(1185.7,1472) rotate(-90)" text-anchor="end">HSC_CD34+</text>
<text transform="translate(1249.4,1472) rotate(-90)" text-anchor="end">iPS_cells</text>
<text transform="translate(1313.0,1472) rotate(-90)" text-anchor="end">Macrophage</text>
<text transform="translate(1376.7,1472) rotate(-90)" text-anchor="end">Monocyte</text>
<text transform="translate(1440.4,1472) rotate(-90)" text-anchor="end">MSC</text>
<text transform="translate(1504.0,1472) rotate(-90)" text-anchor="end">Myelocyte</text>
<text transform="translate(1567.7,1472) rotate(-90)" text-anchor="end">Neuroepithelial_cell</text>
<text transform="translate(1631.4,1472) rotate(-90)" text-anchor="end">Neurons</text>
<text transform="translate(1695.1,1472) rotate(-90)" text-anchor="end">Neutrophils</text>
<text transform="translate(1758.7,1472) rotate(-90)" text-anchor="end">NK_cell</text>
<text transform="translate(1822.4,1472) rotate(-90)" text-anchor="end">Osteoblasts</text>
<text transform="translate(1886.1,1472) rotate(-90)" text-anchor="end">Platelets</text>
<text transform="translate(1949.7,1472) rotate(-90)" text-anchor="end">Pre-B_cell_CD34-</text>
<text transform="translate(2013.4,1472) rotate(-90)" text-anchor="end">Pro-B_cell_CD34+</text>
<text transform="translate(2077.1,1472) rotate(-90)" text-anchor="end">Pro-Myelocyte</text>
<text transform="translate(2140.8,1472) rotate(-90)" text-anchor="end">Smooth_muscle_cells</text>
<text transform="translate(2204.4,1472) rotate(-90)" text-anchor="end">T_cells</text>
<text transform="translate(2268.1,1472) rotate(-90)" text-anchor="end">Tissue_stem_cells</text>
</g>
<text x="179.2" y="63" font-size="55" fill="#000">Split0 4. Fibroblast_4</text>
<text x="1236.1" y="1883" font-size="45.83" text-anchor="middle" fill="#000">SingleR Annotation</text>
<text transform="translate(56.5,774.4) rotate(-90)" font-size="45.83" text-anchor="middle" fill="#000">Activity Score</text>
<text x="2362" y="95.7" font-size="45.83" fill="#000">SampleNames</text>
<rect x="2362" y="123.4" width="72" height="72" fill="#F2F2F2"/>
<rect x="2362" y="195.4" width="72" height="72" fill="#F2F2F2"/>
<rect x="2362" y="267.4" width="72" height="72" fill="#F2F2F2"/>
<rect x="2362" y="339.4" width="72" height="72" fill="#F2F2F2"/>
<rect x="2362" y="411.4" width="72" height="72" fill="#F2F2F2"/>
<rect x="2362" y="483.4" width="72" height="72" fill="#F2F2F2"/>
<rect x="2362" y="555.4" width="72" height="72" fill="#F2F2F2"/>
<rect x="2362" y="627.4" width="72" height="72" fill="#F2F2F2"/>
<rect x="2362" y="699.4" width="72" height="72" fill="#F2F2F2"/>
<rect x="2362" y="771.4" width="72" height="72" fill="#F2F2F2"/>
<rect x="2362" y="843.4" width="72" height="72" fill="#F2F2F2"/>
<rect x="2362" y="915.4" width="72" height="72" fill="#F2F2F2"/>
<rect x="2362" y="987.4" width="72" height="72" fill="#F2F2F2"/>
<rect x="2362" y="1059.4" width="72" height="72" fill="#F2F2F2"/>
<rect x="2362" y="1131.4" width="72" height="72" fill="#F2F2F2"/>
<rect x="2362" y="1203.4" width="72" height="72" fill="#F2F2F2"/>
<rect x="2362" y="1275.4" width="72" height="72" fill="#F2F2F2"/>
<rect x="2362" y="1347.4" width="72" height="72" fill="#F2F2F2"/>
<rect x="2362" y="1419.4" width="72" height="72" fill="#F2F2F2"/>
<g stroke="#fff" stroke-width="0" />
<g stroke-width="2.95" fill-opacity="0.5" stroke-opacity="0.5">
<circle cx="2398" cy="159.4" r="8.1" fill="#F8766D" stroke="#F8766D"/>
<circle cx="2398" cy="231.4" r="8.1" fill="#E9842C" stroke="#E9842C"/>
<circle cx="2398" cy="303.4" r="8.1" fill="#D69100" stroke="#D69100"/>
<circle cx="2398" cy="375.4" r="8.1" fill="#BC9D00" stroke="#BC9D00"/>
<circle cx="2398" cy="447.4" r="8.1" fill="#9CA700" stroke="#9CA700"/>
<circle cx="2398" cy="519.4" r="8.1" fill="#6FB000" stroke="#6FB000"/>
<circle cx="2398" cy="591.4" r="8.1" fill="#00B813" stroke="#00B813"/>
<circle cx="2398" cy="663.4" r="8.1" fill="#00BD61" stroke="#00BD61"/>
<circle cx="2398" cy="735.4" r="8.1" fill="#00C08E" stroke="#00C08E"/>
<circle cx="2398" cy="807.4" r="8.1" fill="#00C0B4" stroke="#00C0B4"/>
<circle cx="2398" cy="879.4" r="8.1" fill="#00BDD4" stroke="#00BDD4"/>
<circle cx="2398" cy="951.4" r="8.1" fill="#00B5EE" stroke="#00B5EE"/>
<circle cx="2398" cy="1023.4" r="8.1" fill="#00A7FF" stroke="#00A7FF"/>
<circle cx="2398" cy="1095.4" r="8.1" fill="#7F96FF" stroke="#7F96FF"/>
<circle cx="2398" cy="1167.4" r="8.1" fill="#BC81FF" stroke="#BC81FF"/>
<circle cx="2398" cy="1239.4" r="8.1" fill="#E26EF7" stroke="#E26EF7"/>
<circle cx="2398" cy="1311.4" r="8.1" fill="#F863DF" stroke="#F863DF"/>
<circle cx="2398" cy="1383.4" r="8.1" fill="#FF62BF" stroke="#FF62BF"/>
<circle cx="2398" cy="1455.4" r="8.1" fill="#FF6A9A" stroke="#FF6A9A"/>
</g>
<g font-size="36.67" fill="#000">
<text x="2456.9" y="173.0">NB01</text>
<text x="2456.9" y="245.0">NB02</text>
<text x="2456.9" y="317.0">NB09</text>
<text x="2456.9" y="389.0">NB11</text>
<text x="2456.9" y="461.0">NB12</text>
<text x="2456.9" y="533.0">NB13</text>
<text x="2456.9" y="605.0">NB15</text>
<text x="2456.9" y="677.0">NB16</text>
<text x="2456.9" y="749.0">NB17</text>
<text x="2456.9" y="821.0">NB18</text>
<text x="2456.9" y="893.0">NB19</text>
<text x="2456.9" y="965.0">NB20</text>
<text x="2456.9" y="1037.0">NB21</text>
<text x="2456.9" y="1109.0">NB22</text>
<text x="2456.9" y="1181.0">NB23</text>
<text x="2456.9" y="1253.0">NB24</text>
<text x="2456.9" y="1325.0">NB26</text>
<text x="2456.9" y="1397.0">NB34</text>
<text x="2456.9" y="1469.0">NB37</text>
</g>
</svg>
</body></html>
